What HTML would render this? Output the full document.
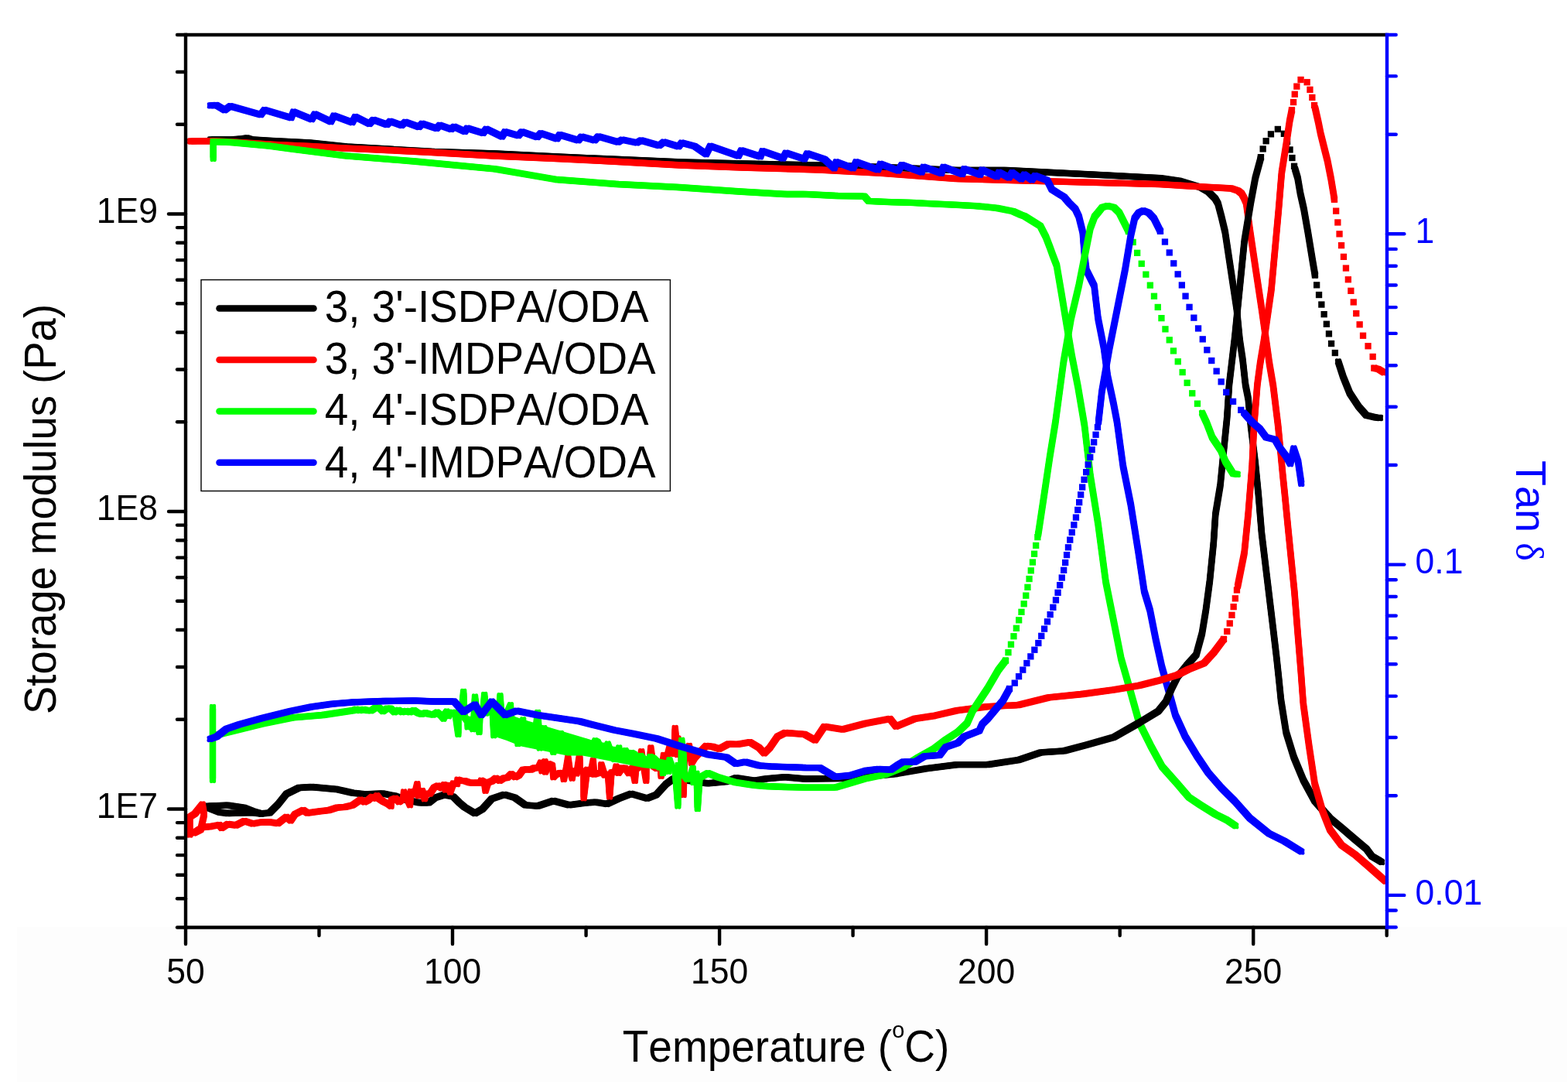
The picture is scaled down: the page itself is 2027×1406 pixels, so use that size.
<!DOCTYPE html>
<html><head><meta charset="utf-8"><style>
html,body{margin:0;padding:0;background:#fff;width:2027px;height:1406px;overflow:hidden}
body{position:relative}
svg text{font-kerning:none}
</style></head><body>
<svg width="2027" height="1406" viewBox="0 0 2027 1406" style="position:absolute;left:0;top:0">
<rect x="22" y="1198" width="2004.3" height="199.7" fill="#fdfdfd"/>
<g stroke="#000" fill="none" stroke-linejoin="round" stroke-linecap="round"><path d="M272.0,180.5 L300.0,180.5 L312.0,179.5 L319.0,178.3 L326.0,180.5 L350.0,182.0 L400.0,184.5 L447.0,189.5 L500.0,192.5 L560.0,196.0 L640.0,198.5 L720.0,202.5 L800.0,206.0 L880.0,209.5 L960.0,211.5 L1060.0,213.5 L1140.0,216.0 L1237.0,220.0 L1300.0,220.0 L1424.0,226.1 L1500.0,230.2 L1524.0,233.6 L1551.8,242.0 L1562.2,248.0 L1571.0,256.8 L1574.5,263.0 L1579.0,280.0 L1583.7,299.6 L1591.2,349.3 L1598.7,399.1 L1602.7,440.0 L1606.5,465.0 L1610.0,497.0 L1613.6,515.0 L1616.9,550.0 L1622.6,596.5 L1626.9,640.0 L1631.0,689.3 L1638.5,751.5 L1646.0,813.8 L1650.3,850.0 L1653.5,880.0 L1656.0,905.0 L1662.6,946.3 L1672.5,978.4 L1684.8,1008.0 L1699.6,1035.1 L1719.3,1057.3 L1734.1,1069.7 L1751.4,1084.5 L1766.2,1096.8 L1773.6,1106.7 L1782.2,1111.6 L1786.0,1114.0" stroke-width="7.64"/><path transform="translate(-2.075,-2.075)" d="M272.0,180.5 L300.0,180.5 L312.0,179.5 L319.0,178.3 L326.0,180.5 L350.0,182.0 L400.0,184.5 L447.0,189.5 L500.0,192.5 L560.0,196.0 L640.0,198.5 L720.0,202.5 L800.0,206.0 L880.0,209.5 L960.0,211.5 L1060.0,213.5 L1140.0,216.0 L1237.0,220.0 L1300.0,220.0 L1424.0,226.1 L1500.0,230.2 L1524.0,233.6 L1551.8,242.0 L1562.2,248.0 L1571.0,256.8 L1574.5,263.0 L1579.0,280.0 L1583.7,299.6 L1591.2,349.3 L1598.7,399.1 L1602.7,440.0 L1606.5,465.0 L1610.0,497.0 L1613.6,515.0 L1616.9,550.0 L1622.6,596.5 L1626.9,640.0 L1631.0,689.3 L1638.5,751.5 L1646.0,813.8 L1650.3,850.0 L1653.5,880.0 L1656.0,905.0 L1662.6,946.3 L1672.5,978.4 L1684.8,1008.0 L1699.6,1035.1 L1719.3,1057.3 L1734.1,1069.7 L1751.4,1084.5 L1766.2,1096.8 L1773.6,1106.7 L1782.2,1111.6 L1786.0,1114.0" stroke-width="4.15"/><path transform="translate(2.075,-2.075)" d="M272.0,180.5 L300.0,180.5 L312.0,179.5 L319.0,178.3 L326.0,180.5 L350.0,182.0 L400.0,184.5 L447.0,189.5 L500.0,192.5 L560.0,196.0 L640.0,198.5 L720.0,202.5 L800.0,206.0 L880.0,209.5 L960.0,211.5 L1060.0,213.5 L1140.0,216.0 L1237.0,220.0 L1300.0,220.0 L1424.0,226.1 L1500.0,230.2 L1524.0,233.6 L1551.8,242.0 L1562.2,248.0 L1571.0,256.8 L1574.5,263.0 L1579.0,280.0 L1583.7,299.6 L1591.2,349.3 L1598.7,399.1 L1602.7,440.0 L1606.5,465.0 L1610.0,497.0 L1613.6,515.0 L1616.9,550.0 L1622.6,596.5 L1626.9,640.0 L1631.0,689.3 L1638.5,751.5 L1646.0,813.8 L1650.3,850.0 L1653.5,880.0 L1656.0,905.0 L1662.6,946.3 L1672.5,978.4 L1684.8,1008.0 L1699.6,1035.1 L1719.3,1057.3 L1734.1,1069.7 L1751.4,1084.5 L1766.2,1096.8 L1773.6,1106.7 L1782.2,1111.6 L1786.0,1114.0" stroke-width="4.15"/><path transform="translate(-2.075,2.075)" d="M272.0,180.5 L300.0,180.5 L312.0,179.5 L319.0,178.3 L326.0,180.5 L350.0,182.0 L400.0,184.5 L447.0,189.5 L500.0,192.5 L560.0,196.0 L640.0,198.5 L720.0,202.5 L800.0,206.0 L880.0,209.5 L960.0,211.5 L1060.0,213.5 L1140.0,216.0 L1237.0,220.0 L1300.0,220.0 L1424.0,226.1 L1500.0,230.2 L1524.0,233.6 L1551.8,242.0 L1562.2,248.0 L1571.0,256.8 L1574.5,263.0 L1579.0,280.0 L1583.7,299.6 L1591.2,349.3 L1598.7,399.1 L1602.7,440.0 L1606.5,465.0 L1610.0,497.0 L1613.6,515.0 L1616.9,550.0 L1622.6,596.5 L1626.9,640.0 L1631.0,689.3 L1638.5,751.5 L1646.0,813.8 L1650.3,850.0 L1653.5,880.0 L1656.0,905.0 L1662.6,946.3 L1672.5,978.4 L1684.8,1008.0 L1699.6,1035.1 L1719.3,1057.3 L1734.1,1069.7 L1751.4,1084.5 L1766.2,1096.8 L1773.6,1106.7 L1782.2,1111.6 L1786.0,1114.0" stroke-width="4.15"/><path transform="translate(2.075,2.075)" d="M272.0,180.5 L300.0,180.5 L312.0,179.5 L319.0,178.3 L326.0,180.5 L350.0,182.0 L400.0,184.5 L447.0,189.5 L500.0,192.5 L560.0,196.0 L640.0,198.5 L720.0,202.5 L800.0,206.0 L880.0,209.5 L960.0,211.5 L1060.0,213.5 L1140.0,216.0 L1237.0,220.0 L1300.0,220.0 L1424.0,226.1 L1500.0,230.2 L1524.0,233.6 L1551.8,242.0 L1562.2,248.0 L1571.0,256.8 L1574.5,263.0 L1579.0,280.0 L1583.7,299.6 L1591.2,349.3 L1598.7,399.1 L1602.7,440.0 L1606.5,465.0 L1610.0,497.0 L1613.6,515.0 L1616.9,550.0 L1622.6,596.5 L1626.9,640.0 L1631.0,689.3 L1638.5,751.5 L1646.0,813.8 L1650.3,850.0 L1653.5,880.0 L1656.0,905.0 L1662.6,946.3 L1672.5,978.4 L1684.8,1008.0 L1699.6,1035.1 L1719.3,1057.3 L1734.1,1069.7 L1751.4,1084.5 L1766.2,1096.8 L1773.6,1106.7 L1782.2,1111.6 L1786.0,1114.0" stroke-width="4.15"/></g>
<g stroke="#ff0000" fill="none" stroke-linejoin="round" stroke-linecap="round"><path d="M246.0,182.5 L272.0,182.2 L300.0,183.5 L348.7,186.6 L400.0,189.0 L447.3,191.6 L500.0,194.0 L560.0,197.0 L640.0,201.6 L720.0,205.0 L800.0,209.0 L880.0,213.5 L960.0,216.5 L1060.0,219.5 L1140.0,223.8 L1237.0,231.0 L1300.0,232.8 L1424.4,236.2 L1500.0,238.2 L1548.9,241.1 L1591.8,243.5 L1600.6,246.5 L1605.0,250.0 L1608.0,255.3 L1611.0,262.0 L1616.1,299.6 L1623.5,349.3 L1631.0,399.1 L1636.8,440.0 L1641.0,470.0 L1645.9,498.7 L1652.2,550.0 L1658.4,614.7 L1661.0,640.0 L1665.8,689.3 L1673.3,764.0 L1678.3,826.2 L1681.5,865.0 L1684.8,909.3 L1692.2,963.6 L1699.6,1012.9 L1709.5,1047.5 L1719.3,1072.1 L1734.1,1091.9 L1751.4,1104.2 L1768.7,1119.0 L1790.9,1138.7" stroke-width="7.64"/><path transform="translate(-2.075,-2.075)" d="M246.0,182.5 L272.0,182.2 L300.0,183.5 L348.7,186.6 L400.0,189.0 L447.3,191.6 L500.0,194.0 L560.0,197.0 L640.0,201.6 L720.0,205.0 L800.0,209.0 L880.0,213.5 L960.0,216.5 L1060.0,219.5 L1140.0,223.8 L1237.0,231.0 L1300.0,232.8 L1424.4,236.2 L1500.0,238.2 L1548.9,241.1 L1591.8,243.5 L1600.6,246.5 L1605.0,250.0 L1608.0,255.3 L1611.0,262.0 L1616.1,299.6 L1623.5,349.3 L1631.0,399.1 L1636.8,440.0 L1641.0,470.0 L1645.9,498.7 L1652.2,550.0 L1658.4,614.7 L1661.0,640.0 L1665.8,689.3 L1673.3,764.0 L1678.3,826.2 L1681.5,865.0 L1684.8,909.3 L1692.2,963.6 L1699.6,1012.9 L1709.5,1047.5 L1719.3,1072.1 L1734.1,1091.9 L1751.4,1104.2 L1768.7,1119.0 L1790.9,1138.7" stroke-width="4.15"/><path transform="translate(2.075,-2.075)" d="M246.0,182.5 L272.0,182.2 L300.0,183.5 L348.7,186.6 L400.0,189.0 L447.3,191.6 L500.0,194.0 L560.0,197.0 L640.0,201.6 L720.0,205.0 L800.0,209.0 L880.0,213.5 L960.0,216.5 L1060.0,219.5 L1140.0,223.8 L1237.0,231.0 L1300.0,232.8 L1424.4,236.2 L1500.0,238.2 L1548.9,241.1 L1591.8,243.5 L1600.6,246.5 L1605.0,250.0 L1608.0,255.3 L1611.0,262.0 L1616.1,299.6 L1623.5,349.3 L1631.0,399.1 L1636.8,440.0 L1641.0,470.0 L1645.9,498.7 L1652.2,550.0 L1658.4,614.7 L1661.0,640.0 L1665.8,689.3 L1673.3,764.0 L1678.3,826.2 L1681.5,865.0 L1684.8,909.3 L1692.2,963.6 L1699.6,1012.9 L1709.5,1047.5 L1719.3,1072.1 L1734.1,1091.9 L1751.4,1104.2 L1768.7,1119.0 L1790.9,1138.7" stroke-width="4.15"/><path transform="translate(-2.075,2.075)" d="M246.0,182.5 L272.0,182.2 L300.0,183.5 L348.7,186.6 L400.0,189.0 L447.3,191.6 L500.0,194.0 L560.0,197.0 L640.0,201.6 L720.0,205.0 L800.0,209.0 L880.0,213.5 L960.0,216.5 L1060.0,219.5 L1140.0,223.8 L1237.0,231.0 L1300.0,232.8 L1424.4,236.2 L1500.0,238.2 L1548.9,241.1 L1591.8,243.5 L1600.6,246.5 L1605.0,250.0 L1608.0,255.3 L1611.0,262.0 L1616.1,299.6 L1623.5,349.3 L1631.0,399.1 L1636.8,440.0 L1641.0,470.0 L1645.9,498.7 L1652.2,550.0 L1658.4,614.7 L1661.0,640.0 L1665.8,689.3 L1673.3,764.0 L1678.3,826.2 L1681.5,865.0 L1684.8,909.3 L1692.2,963.6 L1699.6,1012.9 L1709.5,1047.5 L1719.3,1072.1 L1734.1,1091.9 L1751.4,1104.2 L1768.7,1119.0 L1790.9,1138.7" stroke-width="4.15"/><path transform="translate(2.075,2.075)" d="M246.0,182.5 L272.0,182.2 L300.0,183.5 L348.7,186.6 L400.0,189.0 L447.3,191.6 L500.0,194.0 L560.0,197.0 L640.0,201.6 L720.0,205.0 L800.0,209.0 L880.0,213.5 L960.0,216.5 L1060.0,219.5 L1140.0,223.8 L1237.0,231.0 L1300.0,232.8 L1424.4,236.2 L1500.0,238.2 L1548.9,241.1 L1591.8,243.5 L1600.6,246.5 L1605.0,250.0 L1608.0,255.3 L1611.0,262.0 L1616.1,299.6 L1623.5,349.3 L1631.0,399.1 L1636.8,440.0 L1641.0,470.0 L1645.9,498.7 L1652.2,550.0 L1658.4,614.7 L1661.0,640.0 L1665.8,689.3 L1673.3,764.0 L1678.3,826.2 L1681.5,865.0 L1684.8,909.3 L1692.2,963.6 L1699.6,1012.9 L1709.5,1047.5 L1719.3,1072.1 L1734.1,1091.9 L1751.4,1104.2 L1768.7,1119.0 L1790.9,1138.7" stroke-width="4.15"/></g>
<g stroke="#00ff00" fill="none" stroke-linejoin="round" stroke-linecap="round"><path d="M275.7,183.0 L275.7,205.0" stroke-width="7.64"/><path transform="translate(-2.075,-2.075)" d="M275.7,183.0 L275.7,205.0" stroke-width="4.15"/><path transform="translate(2.075,-2.075)" d="M275.7,183.0 L275.7,205.0" stroke-width="4.15"/><path transform="translate(-2.075,2.075)" d="M275.7,183.0 L275.7,205.0" stroke-width="4.15"/><path transform="translate(2.075,2.075)" d="M275.7,183.0 L275.7,205.0" stroke-width="4.15"/></g>
<g stroke="#00ff00" fill="none" stroke-linejoin="round" stroke-linecap="round"><path d="M275.7,183.2 L300.0,184.0 L348.7,188.6 L378.3,192.6 L447.3,201.4 L536.0,208.5 L640.0,218.4 L719.0,232.0 L798.0,238.0 L877.0,242.0 L956.0,247.5 L1015.7,251.0 L1040.0,250.9 L1081.4,253.0 L1117.4,253.6 L1122.9,259.9 L1150.5,261.2 L1178.1,261.9 L1205.8,263.3 L1233.4,264.7 L1261.0,266.1 L1288.7,268.8 L1309.4,273.0 L1320.0,277.8 L1324.9,279.6 L1344.8,292.0 L1352.0,306.0 L1357.2,319.5 L1361.0,330.0 L1366.0,343.0 L1372.2,379.2 L1379.6,424.0 L1385.9,461.3 L1393.3,498.7 L1402.0,550.0 L1409.5,614.7 L1419.5,676.9 L1429.4,751.5 L1439.4,801.3 L1449.3,851.1 L1460.3,889.6 L1472.7,934.0 L1487.5,963.6 L1502.3,990.7 L1522.0,1012.9 L1536.8,1030.2 L1551.6,1040.1 L1571.3,1052.4 L1586.1,1059.8 L1597.2,1067.2" stroke-width="7.64"/><path transform="translate(-2.075,-2.075)" d="M275.7,183.2 L300.0,184.0 L348.7,188.6 L378.3,192.6 L447.3,201.4 L536.0,208.5 L640.0,218.4 L719.0,232.0 L798.0,238.0 L877.0,242.0 L956.0,247.5 L1015.7,251.0 L1040.0,250.9 L1081.4,253.0 L1117.4,253.6 L1122.9,259.9 L1150.5,261.2 L1178.1,261.9 L1205.8,263.3 L1233.4,264.7 L1261.0,266.1 L1288.7,268.8 L1309.4,273.0 L1320.0,277.8 L1324.9,279.6 L1344.8,292.0 L1352.0,306.0 L1357.2,319.5 L1361.0,330.0 L1366.0,343.0 L1372.2,379.2 L1379.6,424.0 L1385.9,461.3 L1393.3,498.7 L1402.0,550.0 L1409.5,614.7 L1419.5,676.9 L1429.4,751.5 L1439.4,801.3 L1449.3,851.1 L1460.3,889.6 L1472.7,934.0 L1487.5,963.6 L1502.3,990.7 L1522.0,1012.9 L1536.8,1030.2 L1551.6,1040.1 L1571.3,1052.4 L1586.1,1059.8 L1597.2,1067.2" stroke-width="4.15"/><path transform="translate(2.075,-2.075)" d="M275.7,183.2 L300.0,184.0 L348.7,188.6 L378.3,192.6 L447.3,201.4 L536.0,208.5 L640.0,218.4 L719.0,232.0 L798.0,238.0 L877.0,242.0 L956.0,247.5 L1015.7,251.0 L1040.0,250.9 L1081.4,253.0 L1117.4,253.6 L1122.9,259.9 L1150.5,261.2 L1178.1,261.9 L1205.8,263.3 L1233.4,264.7 L1261.0,266.1 L1288.7,268.8 L1309.4,273.0 L1320.0,277.8 L1324.9,279.6 L1344.8,292.0 L1352.0,306.0 L1357.2,319.5 L1361.0,330.0 L1366.0,343.0 L1372.2,379.2 L1379.6,424.0 L1385.9,461.3 L1393.3,498.7 L1402.0,550.0 L1409.5,614.7 L1419.5,676.9 L1429.4,751.5 L1439.4,801.3 L1449.3,851.1 L1460.3,889.6 L1472.7,934.0 L1487.5,963.6 L1502.3,990.7 L1522.0,1012.9 L1536.8,1030.2 L1551.6,1040.1 L1571.3,1052.4 L1586.1,1059.8 L1597.2,1067.2" stroke-width="4.15"/><path transform="translate(-2.075,2.075)" d="M275.7,183.2 L300.0,184.0 L348.7,188.6 L378.3,192.6 L447.3,201.4 L536.0,208.5 L640.0,218.4 L719.0,232.0 L798.0,238.0 L877.0,242.0 L956.0,247.5 L1015.7,251.0 L1040.0,250.9 L1081.4,253.0 L1117.4,253.6 L1122.9,259.9 L1150.5,261.2 L1178.1,261.9 L1205.8,263.3 L1233.4,264.7 L1261.0,266.1 L1288.7,268.8 L1309.4,273.0 L1320.0,277.8 L1324.9,279.6 L1344.8,292.0 L1352.0,306.0 L1357.2,319.5 L1361.0,330.0 L1366.0,343.0 L1372.2,379.2 L1379.6,424.0 L1385.9,461.3 L1393.3,498.7 L1402.0,550.0 L1409.5,614.7 L1419.5,676.9 L1429.4,751.5 L1439.4,801.3 L1449.3,851.1 L1460.3,889.6 L1472.7,934.0 L1487.5,963.6 L1502.3,990.7 L1522.0,1012.9 L1536.8,1030.2 L1551.6,1040.1 L1571.3,1052.4 L1586.1,1059.8 L1597.2,1067.2" stroke-width="4.15"/><path transform="translate(2.075,2.075)" d="M275.7,183.2 L300.0,184.0 L348.7,188.6 L378.3,192.6 L447.3,201.4 L536.0,208.5 L640.0,218.4 L719.0,232.0 L798.0,238.0 L877.0,242.0 L956.0,247.5 L1015.7,251.0 L1040.0,250.9 L1081.4,253.0 L1117.4,253.6 L1122.9,259.9 L1150.5,261.2 L1178.1,261.9 L1205.8,263.3 L1233.4,264.7 L1261.0,266.1 L1288.7,268.8 L1309.4,273.0 L1320.0,277.8 L1324.9,279.6 L1344.8,292.0 L1352.0,306.0 L1357.2,319.5 L1361.0,330.0 L1366.0,343.0 L1372.2,379.2 L1379.6,424.0 L1385.9,461.3 L1393.3,498.7 L1402.0,550.0 L1409.5,614.7 L1419.5,676.9 L1429.4,751.5 L1439.4,801.3 L1449.3,851.1 L1460.3,889.6 L1472.7,934.0 L1487.5,963.6 L1502.3,990.7 L1522.0,1012.9 L1536.8,1030.2 L1551.6,1040.1 L1571.3,1052.4 L1586.1,1059.8 L1597.2,1067.2" stroke-width="4.15"/></g>
<g stroke="#0000ff" fill="none" stroke-linejoin="round" stroke-linecap="round"><path d="M271.8,136.3 L279.7,135.8 L290.6,142.4 L297.5,137.1 L337.0,148.3 L341.9,142.0 L376.4,152.3 L379.4,144.5 L403.1,154.2 L407.0,147.4 L427.7,157.2 L431.7,149.4 L455.4,158.2 L459.3,150.9 L477.7,160.1 L482.6,154.8 L500.4,161.1 L504.3,156.7 L519.1,162.1 L524.0,157.7 L541.8,164.1 L545.7,159.7 L564.5,166.0 L568.4,161.7 L583.2,167.0 L587.1,163.7 L601.0,170.0 L603.9,165.6 L624.6,172.0 L628.6,166.6 L649.0,176.5 L652.8,170.3 L670.1,175.3 L674.6,170.3 L694.5,177.2 L699.0,172.2 L720.2,179.4 L723.4,174.1 L747.7,181.4 L751.6,176.7 L768.9,181.4 L773.4,176.3 L799.1,183.6 L804.2,180.5 L823.4,184.5 L828.6,181.4 L852.3,188.1 L858.1,183.5 L877.3,189.4 L881.2,184.5 L898.0,189.0 L912.9,199.3 L918.2,188.7 L954.6,201.5 L958.2,194.4 L983.0,202.4 L985.7,195.3 L1012.3,204.6 L1015.9,197.6 L1039.9,205.5 L1043.4,198.4 L1065.7,205.7 L1078.5,217.4 L1081.0,209.3 L1102.9,217.4 L1106.7,209.3 L1134.9,219.4 L1138.1,211.8 L1161.2,220.6 L1165.7,213.1 L1191.4,222.6 L1193.9,215.7 L1217.0,223.9 L1219.6,215.7 L1244.0,225.1 L1246.5,218.2 L1267.0,225.8 L1269.6,219.5 L1288.8,228.3 L1291.4,222.7 L1304.4,229.5 L1308.4,223.0 L1320.2,231.5 L1324.2,225.5 L1334.0,232.5 L1338.0,227.0 L1353.8,233.0 L1359.7,244.7 L1368.0,250.0 L1375.5,254.5 L1382.1,262.2 L1390.0,270.0 L1394.6,279.6 L1399.6,299.6 L1402.0,330.0 L1404.5,349.3 L1414.5,369.2 L1419.5,411.5 L1426.9,448.9 L1431.9,486.2 L1439.4,521.0 L1444.0,545.0 L1451.8,602.2 L1461.8,652.0 L1471.7,714.2 L1479.2,764.0 L1486.7,788.9 L1494.1,826.2 L1502.0,862.0 L1510.0,890.0 L1519.5,924.1 L1531.9,951.3 L1546.7,975.9 L1561.5,998.1 L1578.7,1017.9 L1596.0,1035.1 L1615.7,1057.3 L1640.4,1077.1 L1660.1,1086.9 L1682.3,1100.5" stroke-width="7.64"/><path transform="translate(-2.075,-2.075)" d="M271.8,136.3 L279.7,135.8 L290.6,142.4 L297.5,137.1 L337.0,148.3 L341.9,142.0 L376.4,152.3 L379.4,144.5 L403.1,154.2 L407.0,147.4 L427.7,157.2 L431.7,149.4 L455.4,158.2 L459.3,150.9 L477.7,160.1 L482.6,154.8 L500.4,161.1 L504.3,156.7 L519.1,162.1 L524.0,157.7 L541.8,164.1 L545.7,159.7 L564.5,166.0 L568.4,161.7 L583.2,167.0 L587.1,163.7 L601.0,170.0 L603.9,165.6 L624.6,172.0 L628.6,166.6 L649.0,176.5 L652.8,170.3 L670.1,175.3 L674.6,170.3 L694.5,177.2 L699.0,172.2 L720.2,179.4 L723.4,174.1 L747.7,181.4 L751.6,176.7 L768.9,181.4 L773.4,176.3 L799.1,183.6 L804.2,180.5 L823.4,184.5 L828.6,181.4 L852.3,188.1 L858.1,183.5 L877.3,189.4 L881.2,184.5 L898.0,189.0 L912.9,199.3 L918.2,188.7 L954.6,201.5 L958.2,194.4 L983.0,202.4 L985.7,195.3 L1012.3,204.6 L1015.9,197.6 L1039.9,205.5 L1043.4,198.4 L1065.7,205.7 L1078.5,217.4 L1081.0,209.3 L1102.9,217.4 L1106.7,209.3 L1134.9,219.4 L1138.1,211.8 L1161.2,220.6 L1165.7,213.1 L1191.4,222.6 L1193.9,215.7 L1217.0,223.9 L1219.6,215.7 L1244.0,225.1 L1246.5,218.2 L1267.0,225.8 L1269.6,219.5 L1288.8,228.3 L1291.4,222.7 L1304.4,229.5 L1308.4,223.0 L1320.2,231.5 L1324.2,225.5 L1334.0,232.5 L1338.0,227.0 L1353.8,233.0 L1359.7,244.7 L1368.0,250.0 L1375.5,254.5 L1382.1,262.2 L1390.0,270.0 L1394.6,279.6 L1399.6,299.6 L1402.0,330.0 L1404.5,349.3 L1414.5,369.2 L1419.5,411.5 L1426.9,448.9 L1431.9,486.2 L1439.4,521.0 L1444.0,545.0 L1451.8,602.2 L1461.8,652.0 L1471.7,714.2 L1479.2,764.0 L1486.7,788.9 L1494.1,826.2 L1502.0,862.0 L1510.0,890.0 L1519.5,924.1 L1531.9,951.3 L1546.7,975.9 L1561.5,998.1 L1578.7,1017.9 L1596.0,1035.1 L1615.7,1057.3 L1640.4,1077.1 L1660.1,1086.9 L1682.3,1100.5" stroke-width="4.15"/><path transform="translate(2.075,-2.075)" d="M271.8,136.3 L279.7,135.8 L290.6,142.4 L297.5,137.1 L337.0,148.3 L341.9,142.0 L376.4,152.3 L379.4,144.5 L403.1,154.2 L407.0,147.4 L427.7,157.2 L431.7,149.4 L455.4,158.2 L459.3,150.9 L477.7,160.1 L482.6,154.8 L500.4,161.1 L504.3,156.7 L519.1,162.1 L524.0,157.7 L541.8,164.1 L545.7,159.7 L564.5,166.0 L568.4,161.7 L583.2,167.0 L587.1,163.7 L601.0,170.0 L603.9,165.6 L624.6,172.0 L628.6,166.6 L649.0,176.5 L652.8,170.3 L670.1,175.3 L674.6,170.3 L694.5,177.2 L699.0,172.2 L720.2,179.4 L723.4,174.1 L747.7,181.4 L751.6,176.7 L768.9,181.4 L773.4,176.3 L799.1,183.6 L804.2,180.5 L823.4,184.5 L828.6,181.4 L852.3,188.1 L858.1,183.5 L877.3,189.4 L881.2,184.5 L898.0,189.0 L912.9,199.3 L918.2,188.7 L954.6,201.5 L958.2,194.4 L983.0,202.4 L985.7,195.3 L1012.3,204.6 L1015.9,197.6 L1039.9,205.5 L1043.4,198.4 L1065.7,205.7 L1078.5,217.4 L1081.0,209.3 L1102.9,217.4 L1106.7,209.3 L1134.9,219.4 L1138.1,211.8 L1161.2,220.6 L1165.7,213.1 L1191.4,222.6 L1193.9,215.7 L1217.0,223.9 L1219.6,215.7 L1244.0,225.1 L1246.5,218.2 L1267.0,225.8 L1269.6,219.5 L1288.8,228.3 L1291.4,222.7 L1304.4,229.5 L1308.4,223.0 L1320.2,231.5 L1324.2,225.5 L1334.0,232.5 L1338.0,227.0 L1353.8,233.0 L1359.7,244.7 L1368.0,250.0 L1375.5,254.5 L1382.1,262.2 L1390.0,270.0 L1394.6,279.6 L1399.6,299.6 L1402.0,330.0 L1404.5,349.3 L1414.5,369.2 L1419.5,411.5 L1426.9,448.9 L1431.9,486.2 L1439.4,521.0 L1444.0,545.0 L1451.8,602.2 L1461.8,652.0 L1471.7,714.2 L1479.2,764.0 L1486.7,788.9 L1494.1,826.2 L1502.0,862.0 L1510.0,890.0 L1519.5,924.1 L1531.9,951.3 L1546.7,975.9 L1561.5,998.1 L1578.7,1017.9 L1596.0,1035.1 L1615.7,1057.3 L1640.4,1077.1 L1660.1,1086.9 L1682.3,1100.5" stroke-width="4.15"/><path transform="translate(-2.075,2.075)" d="M271.8,136.3 L279.7,135.8 L290.6,142.4 L297.5,137.1 L337.0,148.3 L341.9,142.0 L376.4,152.3 L379.4,144.5 L403.1,154.2 L407.0,147.4 L427.7,157.2 L431.7,149.4 L455.4,158.2 L459.3,150.9 L477.7,160.1 L482.6,154.8 L500.4,161.1 L504.3,156.7 L519.1,162.1 L524.0,157.7 L541.8,164.1 L545.7,159.7 L564.5,166.0 L568.4,161.7 L583.2,167.0 L587.1,163.7 L601.0,170.0 L603.9,165.6 L624.6,172.0 L628.6,166.6 L649.0,176.5 L652.8,170.3 L670.1,175.3 L674.6,170.3 L694.5,177.2 L699.0,172.2 L720.2,179.4 L723.4,174.1 L747.7,181.4 L751.6,176.7 L768.9,181.4 L773.4,176.3 L799.1,183.6 L804.2,180.5 L823.4,184.5 L828.6,181.4 L852.3,188.1 L858.1,183.5 L877.3,189.4 L881.2,184.5 L898.0,189.0 L912.9,199.3 L918.2,188.7 L954.6,201.5 L958.2,194.4 L983.0,202.4 L985.7,195.3 L1012.3,204.6 L1015.9,197.6 L1039.9,205.5 L1043.4,198.4 L1065.7,205.7 L1078.5,217.4 L1081.0,209.3 L1102.9,217.4 L1106.7,209.3 L1134.9,219.4 L1138.1,211.8 L1161.2,220.6 L1165.7,213.1 L1191.4,222.6 L1193.9,215.7 L1217.0,223.9 L1219.6,215.7 L1244.0,225.1 L1246.5,218.2 L1267.0,225.8 L1269.6,219.5 L1288.8,228.3 L1291.4,222.7 L1304.4,229.5 L1308.4,223.0 L1320.2,231.5 L1324.2,225.5 L1334.0,232.5 L1338.0,227.0 L1353.8,233.0 L1359.7,244.7 L1368.0,250.0 L1375.5,254.5 L1382.1,262.2 L1390.0,270.0 L1394.6,279.6 L1399.6,299.6 L1402.0,330.0 L1404.5,349.3 L1414.5,369.2 L1419.5,411.5 L1426.9,448.9 L1431.9,486.2 L1439.4,521.0 L1444.0,545.0 L1451.8,602.2 L1461.8,652.0 L1471.7,714.2 L1479.2,764.0 L1486.7,788.9 L1494.1,826.2 L1502.0,862.0 L1510.0,890.0 L1519.5,924.1 L1531.9,951.3 L1546.7,975.9 L1561.5,998.1 L1578.7,1017.9 L1596.0,1035.1 L1615.7,1057.3 L1640.4,1077.1 L1660.1,1086.9 L1682.3,1100.5" stroke-width="4.15"/><path transform="translate(2.075,2.075)" d="M271.8,136.3 L279.7,135.8 L290.6,142.4 L297.5,137.1 L337.0,148.3 L341.9,142.0 L376.4,152.3 L379.4,144.5 L403.1,154.2 L407.0,147.4 L427.7,157.2 L431.7,149.4 L455.4,158.2 L459.3,150.9 L477.7,160.1 L482.6,154.8 L500.4,161.1 L504.3,156.7 L519.1,162.1 L524.0,157.7 L541.8,164.1 L545.7,159.7 L564.5,166.0 L568.4,161.7 L583.2,167.0 L587.1,163.7 L601.0,170.0 L603.9,165.6 L624.6,172.0 L628.6,166.6 L649.0,176.5 L652.8,170.3 L670.1,175.3 L674.6,170.3 L694.5,177.2 L699.0,172.2 L720.2,179.4 L723.4,174.1 L747.7,181.4 L751.6,176.7 L768.9,181.4 L773.4,176.3 L799.1,183.6 L804.2,180.5 L823.4,184.5 L828.6,181.4 L852.3,188.1 L858.1,183.5 L877.3,189.4 L881.2,184.5 L898.0,189.0 L912.9,199.3 L918.2,188.7 L954.6,201.5 L958.2,194.4 L983.0,202.4 L985.7,195.3 L1012.3,204.6 L1015.9,197.6 L1039.9,205.5 L1043.4,198.4 L1065.7,205.7 L1078.5,217.4 L1081.0,209.3 L1102.9,217.4 L1106.7,209.3 L1134.9,219.4 L1138.1,211.8 L1161.2,220.6 L1165.7,213.1 L1191.4,222.6 L1193.9,215.7 L1217.0,223.9 L1219.6,215.7 L1244.0,225.1 L1246.5,218.2 L1267.0,225.8 L1269.6,219.5 L1288.8,228.3 L1291.4,222.7 L1304.4,229.5 L1308.4,223.0 L1320.2,231.5 L1324.2,225.5 L1334.0,232.5 L1338.0,227.0 L1353.8,233.0 L1359.7,244.7 L1368.0,250.0 L1375.5,254.5 L1382.1,262.2 L1390.0,270.0 L1394.6,279.6 L1399.6,299.6 L1402.0,330.0 L1404.5,349.3 L1414.5,369.2 L1419.5,411.5 L1426.9,448.9 L1431.9,486.2 L1439.4,521.0 L1444.0,545.0 L1451.8,602.2 L1461.8,652.0 L1471.7,714.2 L1479.2,764.0 L1486.7,788.9 L1494.1,826.2 L1502.0,862.0 L1510.0,890.0 L1519.5,924.1 L1531.9,951.3 L1546.7,975.9 L1561.5,998.1 L1578.7,1017.9 L1596.0,1035.1 L1615.7,1057.3 L1640.4,1077.1 L1660.1,1086.9 L1682.3,1100.5" stroke-width="4.15"/></g>
<g stroke="#000" fill="none" stroke-linejoin="round" stroke-linecap="round"><path d="M268.2,1041.7 L294.3,1040.6 L316.0,1043.9 L326.8,1048.2 L337.7,1051.5 L348.5,1050.4 L359.4,1039.5 L370.2,1026.0 L386.5,1018.0 L402.8,1017.0 L435.4,1020.0 L455.8,1024.7 L471.6,1026.3 L495.2,1025.5 L511.0,1028.7 L526.8,1034.2 L542.6,1037.4 L554.4,1037.4 L562.3,1031.0 L574.2,1027.1 L586.0,1029.5 L593.9,1037.4 L600.5,1043.0 L614.0,1051.1 L623.5,1045.7 L635.7,1032.2 L651.9,1026.8 L665.4,1030.8 L678.9,1040.3 L695.1,1041.6 L715.4,1034.9 L735.7,1040.3 L756.0,1037.6 L770.0,1036.6 L784.5,1039.0 L800.2,1031.8 L815.9,1025.7 L836.5,1031.8 L848.6,1026.9 L860.7,1013.6 L870.3,1006.4 L890.9,1008.8 L915.0,1012.4 L939.2,1010.0 L951.3,1005.2 L975.5,1008.8 L990.0,1006.4 L1015.0,1004.2 L1040.0,1006.5 L1099.2,1005.9 L1158.4,1000.0 L1197.9,993.1 L1237.3,988.1 L1276.8,988.1 L1316.3,982.2 L1345.9,972.3 L1375.5,970.4 L1405.1,962.5 L1440.0,952.6 L1472.7,934.0 L1497.3,919.2 L1507.2,906.9 L1514.5,890.0 L1522.0,875.0 L1534.0,860.0 L1546.4,846.1 L1553.9,818.7 L1558.8,788.9 L1563.8,751.5 L1568.8,701.8 L1571.3,664.4 L1577.5,627.1 L1581.2,589.8 L1586.2,540.0 L1589.0,497.0 L1596.2,436.4 L1602.4,374.2 L1608.6,312.0 L1617.0,261.0 L1622.8,230.0 L1628.8,208.0 L1630.0,203.1" stroke-width="7.64"/><path transform="translate(-2.075,-2.075)" d="M268.2,1041.7 L294.3,1040.6 L316.0,1043.9 L326.8,1048.2 L337.7,1051.5 L348.5,1050.4 L359.4,1039.5 L370.2,1026.0 L386.5,1018.0 L402.8,1017.0 L435.4,1020.0 L455.8,1024.7 L471.6,1026.3 L495.2,1025.5 L511.0,1028.7 L526.8,1034.2 L542.6,1037.4 L554.4,1037.4 L562.3,1031.0 L574.2,1027.1 L586.0,1029.5 L593.9,1037.4 L600.5,1043.0 L614.0,1051.1 L623.5,1045.7 L635.7,1032.2 L651.9,1026.8 L665.4,1030.8 L678.9,1040.3 L695.1,1041.6 L715.4,1034.9 L735.7,1040.3 L756.0,1037.6 L770.0,1036.6 L784.5,1039.0 L800.2,1031.8 L815.9,1025.7 L836.5,1031.8 L848.6,1026.9 L860.7,1013.6 L870.3,1006.4 L890.9,1008.8 L915.0,1012.4 L939.2,1010.0 L951.3,1005.2 L975.5,1008.8 L990.0,1006.4 L1015.0,1004.2 L1040.0,1006.5 L1099.2,1005.9 L1158.4,1000.0 L1197.9,993.1 L1237.3,988.1 L1276.8,988.1 L1316.3,982.2 L1345.9,972.3 L1375.5,970.4 L1405.1,962.5 L1440.0,952.6 L1472.7,934.0 L1497.3,919.2 L1507.2,906.9 L1514.5,890.0 L1522.0,875.0 L1534.0,860.0 L1546.4,846.1 L1553.9,818.7 L1558.8,788.9 L1563.8,751.5 L1568.8,701.8 L1571.3,664.4 L1577.5,627.1 L1581.2,589.8 L1586.2,540.0 L1589.0,497.0 L1596.2,436.4 L1602.4,374.2 L1608.6,312.0 L1617.0,261.0 L1622.8,230.0 L1628.8,208.0 L1630.0,203.1" stroke-width="4.15"/><path transform="translate(2.075,-2.075)" d="M268.2,1041.7 L294.3,1040.6 L316.0,1043.9 L326.8,1048.2 L337.7,1051.5 L348.5,1050.4 L359.4,1039.5 L370.2,1026.0 L386.5,1018.0 L402.8,1017.0 L435.4,1020.0 L455.8,1024.7 L471.6,1026.3 L495.2,1025.5 L511.0,1028.7 L526.8,1034.2 L542.6,1037.4 L554.4,1037.4 L562.3,1031.0 L574.2,1027.1 L586.0,1029.5 L593.9,1037.4 L600.5,1043.0 L614.0,1051.1 L623.5,1045.7 L635.7,1032.2 L651.9,1026.8 L665.4,1030.8 L678.9,1040.3 L695.1,1041.6 L715.4,1034.9 L735.7,1040.3 L756.0,1037.6 L770.0,1036.6 L784.5,1039.0 L800.2,1031.8 L815.9,1025.7 L836.5,1031.8 L848.6,1026.9 L860.7,1013.6 L870.3,1006.4 L890.9,1008.8 L915.0,1012.4 L939.2,1010.0 L951.3,1005.2 L975.5,1008.8 L990.0,1006.4 L1015.0,1004.2 L1040.0,1006.5 L1099.2,1005.9 L1158.4,1000.0 L1197.9,993.1 L1237.3,988.1 L1276.8,988.1 L1316.3,982.2 L1345.9,972.3 L1375.5,970.4 L1405.1,962.5 L1440.0,952.6 L1472.7,934.0 L1497.3,919.2 L1507.2,906.9 L1514.5,890.0 L1522.0,875.0 L1534.0,860.0 L1546.4,846.1 L1553.9,818.7 L1558.8,788.9 L1563.8,751.5 L1568.8,701.8 L1571.3,664.4 L1577.5,627.1 L1581.2,589.8 L1586.2,540.0 L1589.0,497.0 L1596.2,436.4 L1602.4,374.2 L1608.6,312.0 L1617.0,261.0 L1622.8,230.0 L1628.8,208.0 L1630.0,203.1" stroke-width="4.15"/><path transform="translate(-2.075,2.075)" d="M268.2,1041.7 L294.3,1040.6 L316.0,1043.9 L326.8,1048.2 L337.7,1051.5 L348.5,1050.4 L359.4,1039.5 L370.2,1026.0 L386.5,1018.0 L402.8,1017.0 L435.4,1020.0 L455.8,1024.7 L471.6,1026.3 L495.2,1025.5 L511.0,1028.7 L526.8,1034.2 L542.6,1037.4 L554.4,1037.4 L562.3,1031.0 L574.2,1027.1 L586.0,1029.5 L593.9,1037.4 L600.5,1043.0 L614.0,1051.1 L623.5,1045.7 L635.7,1032.2 L651.9,1026.8 L665.4,1030.8 L678.9,1040.3 L695.1,1041.6 L715.4,1034.9 L735.7,1040.3 L756.0,1037.6 L770.0,1036.6 L784.5,1039.0 L800.2,1031.8 L815.9,1025.7 L836.5,1031.8 L848.6,1026.9 L860.7,1013.6 L870.3,1006.4 L890.9,1008.8 L915.0,1012.4 L939.2,1010.0 L951.3,1005.2 L975.5,1008.8 L990.0,1006.4 L1015.0,1004.2 L1040.0,1006.5 L1099.2,1005.9 L1158.4,1000.0 L1197.9,993.1 L1237.3,988.1 L1276.8,988.1 L1316.3,982.2 L1345.9,972.3 L1375.5,970.4 L1405.1,962.5 L1440.0,952.6 L1472.7,934.0 L1497.3,919.2 L1507.2,906.9 L1514.5,890.0 L1522.0,875.0 L1534.0,860.0 L1546.4,846.1 L1553.9,818.7 L1558.8,788.9 L1563.8,751.5 L1568.8,701.8 L1571.3,664.4 L1577.5,627.1 L1581.2,589.8 L1586.2,540.0 L1589.0,497.0 L1596.2,436.4 L1602.4,374.2 L1608.6,312.0 L1617.0,261.0 L1622.8,230.0 L1628.8,208.0 L1630.0,203.1" stroke-width="4.15"/><path transform="translate(2.075,2.075)" d="M268.2,1041.7 L294.3,1040.6 L316.0,1043.9 L326.8,1048.2 L337.7,1051.5 L348.5,1050.4 L359.4,1039.5 L370.2,1026.0 L386.5,1018.0 L402.8,1017.0 L435.4,1020.0 L455.8,1024.7 L471.6,1026.3 L495.2,1025.5 L511.0,1028.7 L526.8,1034.2 L542.6,1037.4 L554.4,1037.4 L562.3,1031.0 L574.2,1027.1 L586.0,1029.5 L593.9,1037.4 L600.5,1043.0 L614.0,1051.1 L623.5,1045.7 L635.7,1032.2 L651.9,1026.8 L665.4,1030.8 L678.9,1040.3 L695.1,1041.6 L715.4,1034.9 L735.7,1040.3 L756.0,1037.6 L770.0,1036.6 L784.5,1039.0 L800.2,1031.8 L815.9,1025.7 L836.5,1031.8 L848.6,1026.9 L860.7,1013.6 L870.3,1006.4 L890.9,1008.8 L915.0,1012.4 L939.2,1010.0 L951.3,1005.2 L975.5,1008.8 L990.0,1006.4 L1015.0,1004.2 L1040.0,1006.5 L1099.2,1005.9 L1158.4,1000.0 L1197.9,993.1 L1237.3,988.1 L1276.8,988.1 L1316.3,982.2 L1345.9,972.3 L1375.5,970.4 L1405.1,962.5 L1440.0,952.6 L1472.7,934.0 L1497.3,919.2 L1507.2,906.9 L1514.5,890.0 L1522.0,875.0 L1534.0,860.0 L1546.4,846.1 L1553.9,818.7 L1558.8,788.9 L1563.8,751.5 L1568.8,701.8 L1571.3,664.4 L1577.5,627.1 L1581.2,589.8 L1586.2,540.0 L1589.0,497.0 L1596.2,436.4 L1602.4,374.2 L1608.6,312.0 L1617.0,261.0 L1622.8,230.0 L1628.8,208.0 L1630.0,203.1" stroke-width="4.15"/></g>
<g fill="#000"><rect x="1625.8" y="199.0" width="8.3" height="8.3"/><rect x="1628.5" y="188.3" width="8.3" height="8.3"/><rect x="1632.5" y="178.1" width="8.3" height="8.3"/><rect x="1638.8" y="169.2" width="8.3" height="8.3"/><rect x="1647.7" y="162.8" width="8.3" height="8.3"/><rect x="1655.7" y="168.7" width="8.3" height="8.3"/><rect x="1659.9" y="178.9" width="8.3" height="8.3"/><rect x="1663.4" y="189.3" width="8.3" height="8.3"/><rect x="1666.3" y="199.9" width="8.3" height="8.3"/><rect x="1668.9" y="210.6" width="8.3" height="8.3"/></g>
<g stroke="#000" fill="none" stroke-linejoin="round" stroke-linecap="round"><path d="M1674.0,218.1 L1677.6,230.2 L1681.0,250.0 L1685.5,270.0 L1690.7,299.6 L1697.0,338.0 L1700.0,355.5" stroke-width="7.64"/><path transform="translate(-2.075,-2.075)" d="M1674.0,218.1 L1677.6,230.2 L1681.0,250.0 L1685.5,270.0 L1690.7,299.6 L1697.0,338.0 L1700.0,355.5" stroke-width="4.15"/><path transform="translate(2.075,-2.075)" d="M1674.0,218.1 L1677.6,230.2 L1681.0,250.0 L1685.5,270.0 L1690.7,299.6 L1697.0,338.0 L1700.0,355.5" stroke-width="4.15"/><path transform="translate(-2.075,2.075)" d="M1674.0,218.1 L1677.6,230.2 L1681.0,250.0 L1685.5,270.0 L1690.7,299.6 L1697.0,338.0 L1700.0,355.5" stroke-width="4.15"/><path transform="translate(2.075,2.075)" d="M1674.0,218.1 L1677.6,230.2 L1681.0,250.0 L1685.5,270.0 L1690.7,299.6 L1697.0,338.0 L1700.0,355.5" stroke-width="4.15"/></g>
<g fill="#000"><rect x="1695.8" y="351.4" width="8.3" height="8.3"/><rect x="1698.0" y="364.2" width="8.3" height="8.3"/><rect x="1700.9" y="376.9" width="8.3" height="8.3"/><rect x="1704.2" y="389.4" width="8.3" height="8.3"/><rect x="1707.5" y="402.0" width="8.3" height="8.3"/><rect x="1710.7" y="414.6" width="8.3" height="8.3"/><rect x="1713.8" y="427.2" width="8.3" height="8.3"/><rect x="1716.9" y="439.9" width="8.3" height="8.3"/><rect x="1721.7" y="451.9" width="8.3" height="8.3"/></g>
<g stroke="#000" fill="none" stroke-linejoin="round" stroke-linecap="round"><path d="M1730.0,467.4 L1736.4,487.0 L1745.0,508.3 L1756.3,525.4 L1766.3,536.7 L1779.1,539.6 L1784.0,540.0" stroke-width="7.64"/><path transform="translate(-2.075,-2.075)" d="M1730.0,467.4 L1736.4,487.0 L1745.0,508.3 L1756.3,525.4 L1766.3,536.7 L1779.1,539.6 L1784.0,540.0" stroke-width="4.15"/><path transform="translate(2.075,-2.075)" d="M1730.0,467.4 L1736.4,487.0 L1745.0,508.3 L1756.3,525.4 L1766.3,536.7 L1779.1,539.6 L1784.0,540.0" stroke-width="4.15"/><path transform="translate(-2.075,2.075)" d="M1730.0,467.4 L1736.4,487.0 L1745.0,508.3 L1756.3,525.4 L1766.3,536.7 L1779.1,539.6 L1784.0,540.0" stroke-width="4.15"/><path transform="translate(2.075,2.075)" d="M1730.0,467.4 L1736.4,487.0 L1745.0,508.3 L1756.3,525.4 L1766.3,536.7 L1779.1,539.6 L1784.0,540.0" stroke-width="4.15"/></g>
<g stroke="#000" fill="none" stroke-linejoin="round" stroke-linecap="round"><path d="M268.2,1043.5 L283.4,1049.5 L294.3,1051.0 L310.5,1050.5 L326.8,1050.0 L337.7,1051.5" stroke-width="7.64"/><path transform="translate(-2.075,-2.075)" d="M268.2,1043.5 L283.4,1049.5 L294.3,1051.0 L310.5,1050.5 L326.8,1050.0 L337.7,1051.5" stroke-width="4.15"/><path transform="translate(2.075,-2.075)" d="M268.2,1043.5 L283.4,1049.5 L294.3,1051.0 L310.5,1050.5 L326.8,1050.0 L337.7,1051.5" stroke-width="4.15"/><path transform="translate(-2.075,2.075)" d="M268.2,1043.5 L283.4,1049.5 L294.3,1051.0 L310.5,1050.5 L326.8,1050.0 L337.7,1051.5" stroke-width="4.15"/><path transform="translate(2.075,2.075)" d="M268.2,1043.5 L283.4,1049.5 L294.3,1051.0 L310.5,1050.5 L326.8,1050.0 L337.7,1051.5" stroke-width="4.15"/></g>
<g stroke="#ff0000" fill="none" stroke-linejoin="round" stroke-linecap="round"><path d="M245.4,1078.6 L245.4,1055.8 L252.0,1051.5 L261.7,1039.5 L263.9,1052.6 L259.5,1072.1 L250.9,1076.4 L262.0,1069.0 L272.6,1068.0 L283.4,1066.0 L286.7,1070.0 L294.3,1065.0 L305.1,1066.5 L316.0,1061.0 L326.8,1064.5 L337.7,1062.5 L348.5,1062.3 L359.4,1064.0 L370.2,1055.6 L375.7,1060.4 L381.1,1052.4 L391.9,1046.9 L397.4,1050.6 L413.6,1048.3 L424.5,1047.2 L435.4,1043.7 L446.2,1042.8 L455.8,1040.5 L466.0,1033.5 L471.0,1036.5 L476.0,1034.0 L481.0,1029.7 L486.0,1031.8 L487.4,1028.2 L491.0,1032.9 L496.0,1036.1 L501.0,1038.5 L505.5,1041.7 L506.0,1033.8 L511.0,1031.6 L516.0,1036.3 L521.0,1032.6 L522.1,1023.5 L526.0,1031.3 L530.0,1040.2 L531.0,1023.0 L536.0,1026.7 L539.4,1013.2 L541.0,1028.3 L546.0,1022.1 L548.9,1032.3 L551.0,1025.7 L556.0,1025.6 L561.0,1017.9 L566.0,1015.3 L571.0,1018.4 L574.2,1014.0 L576.0,1020.5 L581.0,1014.8 L582.1,1023.6 L586.0,1012.5 L591.0,1013.2 L591.5,1007.7 L596.0,1008.8 L601.0,1009.2 L606.0,1011.1 L611.0,1011.8 L616.0,1011.5 L621.0,1011.8 L622.2,1008.6 L626.0,1010.7 L627.6,1021.9 L631.0,1011.2 L636.0,1009.4 L641.0,1005.6 L646.0,1008.9 L651.0,1005.7 L656.0,1004.9 L661.0,1000.2 L666.0,1004.2 L671.0,1001.7 L676.0,994.8 L681.0,994.2 L686.0,994.7 L691.0,992.3 L696.0,992.3 L699.2,985.4 L700.5,996.3 L704.6,984.3 L705.0,997.6 L709.5,987.3 L714.0,989.2 L715.4,1004.3 L718.5,1001.1 L723.0,999.2 L727.5,998.9 L728.9,1007.0 L732.0,993.2 L734.3,978.9 L736.5,994.6 L739.7,1005.7 L741.0,996.1 L745.5,999.5 L749.2,976.2 L750.0,995.7 L754.5,997.2 L754.6,1031.4 L759.0,994.6 L763.5,1000.1 L766.8,983.0 L768.0,1000.7 L772.5,999.1 L777.0,998.9 L777.3,988.1 L781.5,1001.6 L786.0,1000.5 L788.1,1029.5 L790.5,998.3 L795.0,997.5 L796.6,990.5 L799.5,998.9 L804.0,992.5 L808.5,992.9 L813.0,999.3 L817.5,992.5 L820.8,1008.9 L822.0,994.0 L826.5,990.6 L829.2,971.2 L831.0,983.5 L835.3,1008.9 L835.5,983.6 L840.0,981.9 L841.3,966.4 L844.5,989.9 L849.0,993.0 L853.5,984.5 L854.6,1002.9 L858.0,975.9 L862.5,977.6 L866.7,961.5 L867.0,971.4 L871.5,974.1 L872.7,941.0 L876.0,975.2 L876.4,954.3 L880.5,974.9 L883.6,1027.0 L885.0,977.7 L889.5,978.9 L890.9,963.9 L894.0,986.1 L898.5,978.7 L903.0,973.9 L912.6,963.9 L921.1,964.9 L929.6,967.8 L941.6,961.5 L953.7,961.8 L969.4,959.1 L981.5,966.4 L988.0,973.5 L995.0,966.5 L1005.0,952.0 L1015.0,947.0 L1040.0,948.9 L1053.8,956.6 L1065.7,938.8 L1089.3,942.7 L1118.9,934.9 L1150.5,928.9 L1158.4,938.8 L1182.1,928.9 L1207.7,925.0 L1237.3,918.1 L1276.8,913.1 L1316.3,911.2 L1355.7,901.3 L1398.7,897.0 L1440.0,891.4 L1472.7,885.9 L1497.3,879.7 L1522.0,872.3 L1536.4,865.0 L1556.5,857.0 L1568.8,843.6 L1582.0,826.0" stroke-width="7.64"/><path transform="translate(-2.075,-2.075)" d="M245.4,1078.6 L245.4,1055.8 L252.0,1051.5 L261.7,1039.5 L263.9,1052.6 L259.5,1072.1 L250.9,1076.4 L262.0,1069.0 L272.6,1068.0 L283.4,1066.0 L286.7,1070.0 L294.3,1065.0 L305.1,1066.5 L316.0,1061.0 L326.8,1064.5 L337.7,1062.5 L348.5,1062.3 L359.4,1064.0 L370.2,1055.6 L375.7,1060.4 L381.1,1052.4 L391.9,1046.9 L397.4,1050.6 L413.6,1048.3 L424.5,1047.2 L435.4,1043.7 L446.2,1042.8 L455.8,1040.5 L466.0,1033.5 L471.0,1036.5 L476.0,1034.0 L481.0,1029.7 L486.0,1031.8 L487.4,1028.2 L491.0,1032.9 L496.0,1036.1 L501.0,1038.5 L505.5,1041.7 L506.0,1033.8 L511.0,1031.6 L516.0,1036.3 L521.0,1032.6 L522.1,1023.5 L526.0,1031.3 L530.0,1040.2 L531.0,1023.0 L536.0,1026.7 L539.4,1013.2 L541.0,1028.3 L546.0,1022.1 L548.9,1032.3 L551.0,1025.7 L556.0,1025.6 L561.0,1017.9 L566.0,1015.3 L571.0,1018.4 L574.2,1014.0 L576.0,1020.5 L581.0,1014.8 L582.1,1023.6 L586.0,1012.5 L591.0,1013.2 L591.5,1007.7 L596.0,1008.8 L601.0,1009.2 L606.0,1011.1 L611.0,1011.8 L616.0,1011.5 L621.0,1011.8 L622.2,1008.6 L626.0,1010.7 L627.6,1021.9 L631.0,1011.2 L636.0,1009.4 L641.0,1005.6 L646.0,1008.9 L651.0,1005.7 L656.0,1004.9 L661.0,1000.2 L666.0,1004.2 L671.0,1001.7 L676.0,994.8 L681.0,994.2 L686.0,994.7 L691.0,992.3 L696.0,992.3 L699.2,985.4 L700.5,996.3 L704.6,984.3 L705.0,997.6 L709.5,987.3 L714.0,989.2 L715.4,1004.3 L718.5,1001.1 L723.0,999.2 L727.5,998.9 L728.9,1007.0 L732.0,993.2 L734.3,978.9 L736.5,994.6 L739.7,1005.7 L741.0,996.1 L745.5,999.5 L749.2,976.2 L750.0,995.7 L754.5,997.2 L754.6,1031.4 L759.0,994.6 L763.5,1000.1 L766.8,983.0 L768.0,1000.7 L772.5,999.1 L777.0,998.9 L777.3,988.1 L781.5,1001.6 L786.0,1000.5 L788.1,1029.5 L790.5,998.3 L795.0,997.5 L796.6,990.5 L799.5,998.9 L804.0,992.5 L808.5,992.9 L813.0,999.3 L817.5,992.5 L820.8,1008.9 L822.0,994.0 L826.5,990.6 L829.2,971.2 L831.0,983.5 L835.3,1008.9 L835.5,983.6 L840.0,981.9 L841.3,966.4 L844.5,989.9 L849.0,993.0 L853.5,984.5 L854.6,1002.9 L858.0,975.9 L862.5,977.6 L866.7,961.5 L867.0,971.4 L871.5,974.1 L872.7,941.0 L876.0,975.2 L876.4,954.3 L880.5,974.9 L883.6,1027.0 L885.0,977.7 L889.5,978.9 L890.9,963.9 L894.0,986.1 L898.5,978.7 L903.0,973.9 L912.6,963.9 L921.1,964.9 L929.6,967.8 L941.6,961.5 L953.7,961.8 L969.4,959.1 L981.5,966.4 L988.0,973.5 L995.0,966.5 L1005.0,952.0 L1015.0,947.0 L1040.0,948.9 L1053.8,956.6 L1065.7,938.8 L1089.3,942.7 L1118.9,934.9 L1150.5,928.9 L1158.4,938.8 L1182.1,928.9 L1207.7,925.0 L1237.3,918.1 L1276.8,913.1 L1316.3,911.2 L1355.7,901.3 L1398.7,897.0 L1440.0,891.4 L1472.7,885.9 L1497.3,879.7 L1522.0,872.3 L1536.4,865.0 L1556.5,857.0 L1568.8,843.6 L1582.0,826.0" stroke-width="4.15"/><path transform="translate(2.075,-2.075)" d="M245.4,1078.6 L245.4,1055.8 L252.0,1051.5 L261.7,1039.5 L263.9,1052.6 L259.5,1072.1 L250.9,1076.4 L262.0,1069.0 L272.6,1068.0 L283.4,1066.0 L286.7,1070.0 L294.3,1065.0 L305.1,1066.5 L316.0,1061.0 L326.8,1064.5 L337.7,1062.5 L348.5,1062.3 L359.4,1064.0 L370.2,1055.6 L375.7,1060.4 L381.1,1052.4 L391.9,1046.9 L397.4,1050.6 L413.6,1048.3 L424.5,1047.2 L435.4,1043.7 L446.2,1042.8 L455.8,1040.5 L466.0,1033.5 L471.0,1036.5 L476.0,1034.0 L481.0,1029.7 L486.0,1031.8 L487.4,1028.2 L491.0,1032.9 L496.0,1036.1 L501.0,1038.5 L505.5,1041.7 L506.0,1033.8 L511.0,1031.6 L516.0,1036.3 L521.0,1032.6 L522.1,1023.5 L526.0,1031.3 L530.0,1040.2 L531.0,1023.0 L536.0,1026.7 L539.4,1013.2 L541.0,1028.3 L546.0,1022.1 L548.9,1032.3 L551.0,1025.7 L556.0,1025.6 L561.0,1017.9 L566.0,1015.3 L571.0,1018.4 L574.2,1014.0 L576.0,1020.5 L581.0,1014.8 L582.1,1023.6 L586.0,1012.5 L591.0,1013.2 L591.5,1007.7 L596.0,1008.8 L601.0,1009.2 L606.0,1011.1 L611.0,1011.8 L616.0,1011.5 L621.0,1011.8 L622.2,1008.6 L626.0,1010.7 L627.6,1021.9 L631.0,1011.2 L636.0,1009.4 L641.0,1005.6 L646.0,1008.9 L651.0,1005.7 L656.0,1004.9 L661.0,1000.2 L666.0,1004.2 L671.0,1001.7 L676.0,994.8 L681.0,994.2 L686.0,994.7 L691.0,992.3 L696.0,992.3 L699.2,985.4 L700.5,996.3 L704.6,984.3 L705.0,997.6 L709.5,987.3 L714.0,989.2 L715.4,1004.3 L718.5,1001.1 L723.0,999.2 L727.5,998.9 L728.9,1007.0 L732.0,993.2 L734.3,978.9 L736.5,994.6 L739.7,1005.7 L741.0,996.1 L745.5,999.5 L749.2,976.2 L750.0,995.7 L754.5,997.2 L754.6,1031.4 L759.0,994.6 L763.5,1000.1 L766.8,983.0 L768.0,1000.7 L772.5,999.1 L777.0,998.9 L777.3,988.1 L781.5,1001.6 L786.0,1000.5 L788.1,1029.5 L790.5,998.3 L795.0,997.5 L796.6,990.5 L799.5,998.9 L804.0,992.5 L808.5,992.9 L813.0,999.3 L817.5,992.5 L820.8,1008.9 L822.0,994.0 L826.5,990.6 L829.2,971.2 L831.0,983.5 L835.3,1008.9 L835.5,983.6 L840.0,981.9 L841.3,966.4 L844.5,989.9 L849.0,993.0 L853.5,984.5 L854.6,1002.9 L858.0,975.9 L862.5,977.6 L866.7,961.5 L867.0,971.4 L871.5,974.1 L872.7,941.0 L876.0,975.2 L876.4,954.3 L880.5,974.9 L883.6,1027.0 L885.0,977.7 L889.5,978.9 L890.9,963.9 L894.0,986.1 L898.5,978.7 L903.0,973.9 L912.6,963.9 L921.1,964.9 L929.6,967.8 L941.6,961.5 L953.7,961.8 L969.4,959.1 L981.5,966.4 L988.0,973.5 L995.0,966.5 L1005.0,952.0 L1015.0,947.0 L1040.0,948.9 L1053.8,956.6 L1065.7,938.8 L1089.3,942.7 L1118.9,934.9 L1150.5,928.9 L1158.4,938.8 L1182.1,928.9 L1207.7,925.0 L1237.3,918.1 L1276.8,913.1 L1316.3,911.2 L1355.7,901.3 L1398.7,897.0 L1440.0,891.4 L1472.7,885.9 L1497.3,879.7 L1522.0,872.3 L1536.4,865.0 L1556.5,857.0 L1568.8,843.6 L1582.0,826.0" stroke-width="4.15"/><path transform="translate(-2.075,2.075)" d="M245.4,1078.6 L245.4,1055.8 L252.0,1051.5 L261.7,1039.5 L263.9,1052.6 L259.5,1072.1 L250.9,1076.4 L262.0,1069.0 L272.6,1068.0 L283.4,1066.0 L286.7,1070.0 L294.3,1065.0 L305.1,1066.5 L316.0,1061.0 L326.8,1064.5 L337.7,1062.5 L348.5,1062.3 L359.4,1064.0 L370.2,1055.6 L375.7,1060.4 L381.1,1052.4 L391.9,1046.9 L397.4,1050.6 L413.6,1048.3 L424.5,1047.2 L435.4,1043.7 L446.2,1042.8 L455.8,1040.5 L466.0,1033.5 L471.0,1036.5 L476.0,1034.0 L481.0,1029.7 L486.0,1031.8 L487.4,1028.2 L491.0,1032.9 L496.0,1036.1 L501.0,1038.5 L505.5,1041.7 L506.0,1033.8 L511.0,1031.6 L516.0,1036.3 L521.0,1032.6 L522.1,1023.5 L526.0,1031.3 L530.0,1040.2 L531.0,1023.0 L536.0,1026.7 L539.4,1013.2 L541.0,1028.3 L546.0,1022.1 L548.9,1032.3 L551.0,1025.7 L556.0,1025.6 L561.0,1017.9 L566.0,1015.3 L571.0,1018.4 L574.2,1014.0 L576.0,1020.5 L581.0,1014.8 L582.1,1023.6 L586.0,1012.5 L591.0,1013.2 L591.5,1007.7 L596.0,1008.8 L601.0,1009.2 L606.0,1011.1 L611.0,1011.8 L616.0,1011.5 L621.0,1011.8 L622.2,1008.6 L626.0,1010.7 L627.6,1021.9 L631.0,1011.2 L636.0,1009.4 L641.0,1005.6 L646.0,1008.9 L651.0,1005.7 L656.0,1004.9 L661.0,1000.2 L666.0,1004.2 L671.0,1001.7 L676.0,994.8 L681.0,994.2 L686.0,994.7 L691.0,992.3 L696.0,992.3 L699.2,985.4 L700.5,996.3 L704.6,984.3 L705.0,997.6 L709.5,987.3 L714.0,989.2 L715.4,1004.3 L718.5,1001.1 L723.0,999.2 L727.5,998.9 L728.9,1007.0 L732.0,993.2 L734.3,978.9 L736.5,994.6 L739.7,1005.7 L741.0,996.1 L745.5,999.5 L749.2,976.2 L750.0,995.7 L754.5,997.2 L754.6,1031.4 L759.0,994.6 L763.5,1000.1 L766.8,983.0 L768.0,1000.7 L772.5,999.1 L777.0,998.9 L777.3,988.1 L781.5,1001.6 L786.0,1000.5 L788.1,1029.5 L790.5,998.3 L795.0,997.5 L796.6,990.5 L799.5,998.9 L804.0,992.5 L808.5,992.9 L813.0,999.3 L817.5,992.5 L820.8,1008.9 L822.0,994.0 L826.5,990.6 L829.2,971.2 L831.0,983.5 L835.3,1008.9 L835.5,983.6 L840.0,981.9 L841.3,966.4 L844.5,989.9 L849.0,993.0 L853.5,984.5 L854.6,1002.9 L858.0,975.9 L862.5,977.6 L866.7,961.5 L867.0,971.4 L871.5,974.1 L872.7,941.0 L876.0,975.2 L876.4,954.3 L880.5,974.9 L883.6,1027.0 L885.0,977.7 L889.5,978.9 L890.9,963.9 L894.0,986.1 L898.5,978.7 L903.0,973.9 L912.6,963.9 L921.1,964.9 L929.6,967.8 L941.6,961.5 L953.7,961.8 L969.4,959.1 L981.5,966.4 L988.0,973.5 L995.0,966.5 L1005.0,952.0 L1015.0,947.0 L1040.0,948.9 L1053.8,956.6 L1065.7,938.8 L1089.3,942.7 L1118.9,934.9 L1150.5,928.9 L1158.4,938.8 L1182.1,928.9 L1207.7,925.0 L1237.3,918.1 L1276.8,913.1 L1316.3,911.2 L1355.7,901.3 L1398.7,897.0 L1440.0,891.4 L1472.7,885.9 L1497.3,879.7 L1522.0,872.3 L1536.4,865.0 L1556.5,857.0 L1568.8,843.6 L1582.0,826.0" stroke-width="4.15"/><path transform="translate(2.075,2.075)" d="M245.4,1078.6 L245.4,1055.8 L252.0,1051.5 L261.7,1039.5 L263.9,1052.6 L259.5,1072.1 L250.9,1076.4 L262.0,1069.0 L272.6,1068.0 L283.4,1066.0 L286.7,1070.0 L294.3,1065.0 L305.1,1066.5 L316.0,1061.0 L326.8,1064.5 L337.7,1062.5 L348.5,1062.3 L359.4,1064.0 L370.2,1055.6 L375.7,1060.4 L381.1,1052.4 L391.9,1046.9 L397.4,1050.6 L413.6,1048.3 L424.5,1047.2 L435.4,1043.7 L446.2,1042.8 L455.8,1040.5 L466.0,1033.5 L471.0,1036.5 L476.0,1034.0 L481.0,1029.7 L486.0,1031.8 L487.4,1028.2 L491.0,1032.9 L496.0,1036.1 L501.0,1038.5 L505.5,1041.7 L506.0,1033.8 L511.0,1031.6 L516.0,1036.3 L521.0,1032.6 L522.1,1023.5 L526.0,1031.3 L530.0,1040.2 L531.0,1023.0 L536.0,1026.7 L539.4,1013.2 L541.0,1028.3 L546.0,1022.1 L548.9,1032.3 L551.0,1025.7 L556.0,1025.6 L561.0,1017.9 L566.0,1015.3 L571.0,1018.4 L574.2,1014.0 L576.0,1020.5 L581.0,1014.8 L582.1,1023.6 L586.0,1012.5 L591.0,1013.2 L591.5,1007.7 L596.0,1008.8 L601.0,1009.2 L606.0,1011.1 L611.0,1011.8 L616.0,1011.5 L621.0,1011.8 L622.2,1008.6 L626.0,1010.7 L627.6,1021.9 L631.0,1011.2 L636.0,1009.4 L641.0,1005.6 L646.0,1008.9 L651.0,1005.7 L656.0,1004.9 L661.0,1000.2 L666.0,1004.2 L671.0,1001.7 L676.0,994.8 L681.0,994.2 L686.0,994.7 L691.0,992.3 L696.0,992.3 L699.2,985.4 L700.5,996.3 L704.6,984.3 L705.0,997.6 L709.5,987.3 L714.0,989.2 L715.4,1004.3 L718.5,1001.1 L723.0,999.2 L727.5,998.9 L728.9,1007.0 L732.0,993.2 L734.3,978.9 L736.5,994.6 L739.7,1005.7 L741.0,996.1 L745.5,999.5 L749.2,976.2 L750.0,995.7 L754.5,997.2 L754.6,1031.4 L759.0,994.6 L763.5,1000.1 L766.8,983.0 L768.0,1000.7 L772.5,999.1 L777.0,998.9 L777.3,988.1 L781.5,1001.6 L786.0,1000.5 L788.1,1029.5 L790.5,998.3 L795.0,997.5 L796.6,990.5 L799.5,998.9 L804.0,992.5 L808.5,992.9 L813.0,999.3 L817.5,992.5 L820.8,1008.9 L822.0,994.0 L826.5,990.6 L829.2,971.2 L831.0,983.5 L835.3,1008.9 L835.5,983.6 L840.0,981.9 L841.3,966.4 L844.5,989.9 L849.0,993.0 L853.5,984.5 L854.6,1002.9 L858.0,975.9 L862.5,977.6 L866.7,961.5 L867.0,971.4 L871.5,974.1 L872.7,941.0 L876.0,975.2 L876.4,954.3 L880.5,974.9 L883.6,1027.0 L885.0,977.7 L889.5,978.9 L890.9,963.9 L894.0,986.1 L898.5,978.7 L903.0,973.9 L912.6,963.9 L921.1,964.9 L929.6,967.8 L941.6,961.5 L953.7,961.8 L969.4,959.1 L981.5,966.4 L988.0,973.5 L995.0,966.5 L1005.0,952.0 L1015.0,947.0 L1040.0,948.9 L1053.8,956.6 L1065.7,938.8 L1089.3,942.7 L1118.9,934.9 L1150.5,928.9 L1158.4,938.8 L1182.1,928.9 L1207.7,925.0 L1237.3,918.1 L1276.8,913.1 L1316.3,911.2 L1355.7,901.3 L1398.7,897.0 L1440.0,891.4 L1472.7,885.9 L1497.3,879.7 L1522.0,872.3 L1536.4,865.0 L1556.5,857.0 L1568.8,843.6 L1582.0,826.0" stroke-width="4.15"/></g>
<g fill="#ff0000"><rect x="1577.8" y="821.8" width="8.3" height="8.3"/><rect x="1582.1" y="811.8" width="8.3" height="8.3"/><rect x="1585.6" y="801.4" width="8.3" height="8.3"/><rect x="1588.3" y="790.7" width="8.3" height="8.3"/><rect x="1590.5" y="780.0" width="8.3" height="8.3"/><rect x="1592.7" y="769.2" width="8.3" height="8.3"/><rect x="1594.8" y="758.4" width="8.3" height="8.3"/></g>
<g stroke="#ff0000" fill="none" stroke-linejoin="round" stroke-linecap="round"><path d="M1600.0,757.5 L1608.6,714.2 L1613.6,664.4 L1618.6,602.2 L1621.0,552.0 L1625.4,497.0 L1629.0,470.0 L1634.0,440.0 L1643.5,374.2 L1653.0,270.0 L1656.9,222.8 L1662.8,185.8 L1667.2,156.2 L1670.0,142.4" stroke-width="7.64"/><path transform="translate(-2.075,-2.075)" d="M1600.0,757.5 L1608.6,714.2 L1613.6,664.4 L1618.6,602.2 L1621.0,552.0 L1625.4,497.0 L1629.0,470.0 L1634.0,440.0 L1643.5,374.2 L1653.0,270.0 L1656.9,222.8 L1662.8,185.8 L1667.2,156.2 L1670.0,142.4" stroke-width="4.15"/><path transform="translate(2.075,-2.075)" d="M1600.0,757.5 L1608.6,714.2 L1613.6,664.4 L1618.6,602.2 L1621.0,552.0 L1625.4,497.0 L1629.0,470.0 L1634.0,440.0 L1643.5,374.2 L1653.0,270.0 L1656.9,222.8 L1662.8,185.8 L1667.2,156.2 L1670.0,142.4" stroke-width="4.15"/><path transform="translate(-2.075,2.075)" d="M1600.0,757.5 L1608.6,714.2 L1613.6,664.4 L1618.6,602.2 L1621.0,552.0 L1625.4,497.0 L1629.0,470.0 L1634.0,440.0 L1643.5,374.2 L1653.0,270.0 L1656.9,222.8 L1662.8,185.8 L1667.2,156.2 L1670.0,142.4" stroke-width="4.15"/><path transform="translate(2.075,2.075)" d="M1600.0,757.5 L1608.6,714.2 L1613.6,664.4 L1618.6,602.2 L1621.0,552.0 L1625.4,497.0 L1629.0,470.0 L1634.0,440.0 L1643.5,374.2 L1653.0,270.0 L1656.9,222.8 L1662.8,185.8 L1667.2,156.2 L1670.0,142.4" stroke-width="4.15"/></g>
<g fill="#ff0000"><rect x="1665.8" y="138.2" width="8.3" height="8.3"/><rect x="1667.9" y="127.9" width="8.3" height="8.3"/><rect x="1669.6" y="117.6" width="8.3" height="8.3"/><rect x="1672.2" y="107.5" width="8.3" height="8.3"/><rect x="1677.4" y="98.9" width="8.3" height="8.3"/><rect x="1685.5" y="102.1" width="8.3" height="8.3"/><rect x="1689.3" y="111.7" width="8.3" height="8.3"/><rect x="1692.2" y="121.8" width="8.3" height="8.3"/><rect x="1694.9" y="132.0" width="8.3" height="8.3"/></g>
<g stroke="#ff0000" fill="none" stroke-linejoin="round" stroke-linecap="round"><path d="M1700.0,139.5 L1700.5,141.4 L1704.2,157.7 L1707.2,172.5 L1711.6,190.2 L1716.1,208.0 L1720.5,230.2 L1724.2,252.4 L1725.0,257.8" stroke-width="7.64"/><path transform="translate(-2.075,-2.075)" d="M1700.0,139.5 L1700.5,141.4 L1704.2,157.7 L1707.2,172.5 L1711.6,190.2 L1716.1,208.0 L1720.5,230.2 L1724.2,252.4 L1725.0,257.8" stroke-width="4.15"/><path transform="translate(2.075,-2.075)" d="M1700.0,139.5 L1700.5,141.4 L1704.2,157.7 L1707.2,172.5 L1711.6,190.2 L1716.1,208.0 L1720.5,230.2 L1724.2,252.4 L1725.0,257.8" stroke-width="4.15"/><path transform="translate(-2.075,2.075)" d="M1700.0,139.5 L1700.5,141.4 L1704.2,157.7 L1707.2,172.5 L1711.6,190.2 L1716.1,208.0 L1720.5,230.2 L1724.2,252.4 L1725.0,257.8" stroke-width="4.15"/><path transform="translate(2.075,2.075)" d="M1700.0,139.5 L1700.5,141.4 L1704.2,157.7 L1707.2,172.5 L1711.6,190.2 L1716.1,208.0 L1720.5,230.2 L1724.2,252.4 L1725.0,257.8" stroke-width="4.15"/></g>
<g fill="#ff0000"><rect x="1720.8" y="253.7" width="8.3" height="8.3"/><rect x="1723.0" y="268.5" width="8.3" height="8.3"/><rect x="1725.2" y="283.3" width="8.3" height="8.3"/><rect x="1727.4" y="298.2" width="8.3" height="8.3"/><rect x="1729.9" y="313.0" width="8.3" height="8.3"/><rect x="1732.8" y="327.7" width="8.3" height="8.3"/><rect x="1735.8" y="342.4" width="8.3" height="8.3"/><rect x="1738.7" y="357.1" width="8.3" height="8.3"/><rect x="1742.2" y="371.7" width="8.3" height="8.3"/><rect x="1745.6" y="386.3" width="8.3" height="8.3"/><rect x="1749.1" y="400.9" width="8.3" height="8.3"/><rect x="1753.5" y="415.2" width="8.3" height="8.3"/><rect x="1757.9" y="429.6" width="8.3" height="8.3"/><rect x="1764.4" y="443.1" width="8.3" height="8.3"/><rect x="1770.5" y="456.8" width="8.3" height="8.3"/><rect x="1772.2" y="471.5" width="8.3" height="8.3"/></g>
<g stroke="#ff0000" fill="none" stroke-linejoin="round" stroke-linecap="round"><path d="M1777.0,475.8 L1781.9,477.0 L1789.0,481.3" stroke-width="7.64"/><path transform="translate(-2.075,-2.075)" d="M1777.0,475.8 L1781.9,477.0 L1789.0,481.3" stroke-width="4.15"/><path transform="translate(2.075,-2.075)" d="M1777.0,475.8 L1781.9,477.0 L1789.0,481.3" stroke-width="4.15"/><path transform="translate(-2.075,2.075)" d="M1777.0,475.8 L1781.9,477.0 L1789.0,481.3" stroke-width="4.15"/><path transform="translate(2.075,2.075)" d="M1777.0,475.8 L1781.9,477.0 L1789.0,481.3" stroke-width="4.15"/></g>
<g stroke="#00ff00" fill="none" stroke-linejoin="round" stroke-linecap="round"><path d="M275.0,914.0 L275.0,1008.0" stroke-width="7.64"/><path transform="translate(-2.075,-2.075)" d="M275.0,914.0 L275.0,1008.0" stroke-width="4.15"/><path transform="translate(2.075,-2.075)" d="M275.0,914.0 L275.0,1008.0" stroke-width="4.15"/><path transform="translate(-2.075,2.075)" d="M275.0,914.0 L275.0,1008.0" stroke-width="4.15"/><path transform="translate(2.075,2.075)" d="M275.0,914.0 L275.0,1008.0" stroke-width="4.15"/></g>
<polygon fill="#00ff00" points="640,921 654.4,922 674,929 713.6,941 753,952.8 792.5,964.6 832,976.4 871.4,984.3 871.4,996.1 832,992.2 792.5,984.3 753,976.4 733.3,976.4 713.6,972.4 674,964.6 654.4,956.7 640,952"/>
<g stroke="#00ff00" fill="none" stroke-linejoin="round" stroke-linecap="round"><path d="M275.5,951.0 L299.2,945.1 L338.7,935.3 L378.1,927.4 L417.6,924.0 L457.1,918.0 L460.0,916.6 L465.0,918.1 L470.0,916.9 L475.0,918.2 L480.0,918.3 L485.0,914.9 L490.0,914.5 L495.0,919.3 L500.0,915.7 L505.0,915.6 L510.0,920.4 L515.0,917.6 L520.0,920.3 L525.0,918.9 L530.0,920.4 L535.0,917.9 L540.0,921.2 L545.0,922.9 L550.0,921.2 L555.0,922.9 L560.0,923.6 L565.0,920.5 L570.0,924.5 L573.5,928.7 L575.0,923.1 L577.6,919.5 L580.0,925.3 L580.5,923.5 L584.5,920.7 L588.5,921.6 L592.4,948.9 L592.5,920.3 L596.5,920.5 L599.2,893.8 L600.5,926.8 L604.5,932.0 L604.6,939.5 L608.5,929.6 L611.4,942.2 L612.5,929.7 L614.0,900.5 L616.5,921.8 L619.5,946.2 L620.5,923.2 L624.5,919.4 L626.2,897.8 L628.5,921.6 L632.5,918.6 L636.5,915.7 L638.4,950.3 L640.5,927.5 L644.5,928.7 L646.5,899.2 L648.5,926.3 L652.5,924.4 L656.5,919.1 L660.0,911.3 L660.5,927.0 L664.5,934.6 L668.5,937.9 L669.5,961.1 L672.5,943.6 L676.2,930.3 L676.5,948.3 L680.5,936.7 L684.5,941.5 L688.4,950.3 L688.5,944.4 L692.5,943.3 L695.1,920.8 L696.5,941.1 L697.8,966.5 L700.5,948.3 L703.2,941.1 L704.5,945.8 L708.5,962.3 L712.5,961.5 L715.4,971.9 L716.5,957.6 L720.5,956.9 L724.5,967.7 L724.9,947.8 L728.5,963.0 L732.5,966.8 L735.7,971.9 L736.5,966.3 L740.5,963.2 L744.5,963.4 L748.5,966.6 L749.2,957.3 L752.5,963.5 L756.5,958.9 L760.0,971.9 L760.5,960.7 L764.5,969.5 L768.5,959.7 L769.5,957.3 L772.5,958.9 L776.5,966.5 L780.5,963.6 L784.5,969.8 L785.7,961.5 L788.5,969.6 L792.5,968.9 L794.2,981.1 L796.5,979.1 L800.2,966.4 L800.5,969.3 L804.5,973.2 L808.5,970.1 L812.5,976.5 L816.5,973.0 L820.5,975.2 L824.5,982.0 L828.5,977.0 L832.5,981.6 L836.5,987.8 L840.5,978.0 L844.5,979.7 L848.5,983.4 L852.5,991.5 L856.5,990.2 L857.0,999.2 L860.5,987.9 L864.5,996.7 L865.5,982.1 L868.5,991.9 L872.5,992.9 L876.4,1041.5 L876.5,988.8 L880.5,998.3 L881.2,956.7 L883.6,976.0 L884.5,1002.0 L888.5,1006.9 L892.5,1003.1 L895.7,992.9 L896.5,1011.1 L900.5,999.8 L901.8,1045.2 L904.5,1005.0 L906.6,1003.8 L915.0,999.1 L927.1,1004.0 L951.3,1011.2 L975.5,1014.8 L990.0,1016.0 L1015.0,1017.0 L1040.0,1017.7 L1079.5,1017.7 L1120.0,1005.8 L1143.7,1001.0 L1167.4,991.6 L1187.1,978.9 L1206.8,967.9 L1222.6,956.0 L1238.4,945.8 L1250.2,934.7 L1257.1,919.1 L1276.8,889.5 L1290.6,865.8 L1300.0,853.6" stroke-width="7.64"/><path transform="translate(-2.075,-2.075)" d="M275.5,951.0 L299.2,945.1 L338.7,935.3 L378.1,927.4 L417.6,924.0 L457.1,918.0 L460.0,916.6 L465.0,918.1 L470.0,916.9 L475.0,918.2 L480.0,918.3 L485.0,914.9 L490.0,914.5 L495.0,919.3 L500.0,915.7 L505.0,915.6 L510.0,920.4 L515.0,917.6 L520.0,920.3 L525.0,918.9 L530.0,920.4 L535.0,917.9 L540.0,921.2 L545.0,922.9 L550.0,921.2 L555.0,922.9 L560.0,923.6 L565.0,920.5 L570.0,924.5 L573.5,928.7 L575.0,923.1 L577.6,919.5 L580.0,925.3 L580.5,923.5 L584.5,920.7 L588.5,921.6 L592.4,948.9 L592.5,920.3 L596.5,920.5 L599.2,893.8 L600.5,926.8 L604.5,932.0 L604.6,939.5 L608.5,929.6 L611.4,942.2 L612.5,929.7 L614.0,900.5 L616.5,921.8 L619.5,946.2 L620.5,923.2 L624.5,919.4 L626.2,897.8 L628.5,921.6 L632.5,918.6 L636.5,915.7 L638.4,950.3 L640.5,927.5 L644.5,928.7 L646.5,899.2 L648.5,926.3 L652.5,924.4 L656.5,919.1 L660.0,911.3 L660.5,927.0 L664.5,934.6 L668.5,937.9 L669.5,961.1 L672.5,943.6 L676.2,930.3 L676.5,948.3 L680.5,936.7 L684.5,941.5 L688.4,950.3 L688.5,944.4 L692.5,943.3 L695.1,920.8 L696.5,941.1 L697.8,966.5 L700.5,948.3 L703.2,941.1 L704.5,945.8 L708.5,962.3 L712.5,961.5 L715.4,971.9 L716.5,957.6 L720.5,956.9 L724.5,967.7 L724.9,947.8 L728.5,963.0 L732.5,966.8 L735.7,971.9 L736.5,966.3 L740.5,963.2 L744.5,963.4 L748.5,966.6 L749.2,957.3 L752.5,963.5 L756.5,958.9 L760.0,971.9 L760.5,960.7 L764.5,969.5 L768.5,959.7 L769.5,957.3 L772.5,958.9 L776.5,966.5 L780.5,963.6 L784.5,969.8 L785.7,961.5 L788.5,969.6 L792.5,968.9 L794.2,981.1 L796.5,979.1 L800.2,966.4 L800.5,969.3 L804.5,973.2 L808.5,970.1 L812.5,976.5 L816.5,973.0 L820.5,975.2 L824.5,982.0 L828.5,977.0 L832.5,981.6 L836.5,987.8 L840.5,978.0 L844.5,979.7 L848.5,983.4 L852.5,991.5 L856.5,990.2 L857.0,999.2 L860.5,987.9 L864.5,996.7 L865.5,982.1 L868.5,991.9 L872.5,992.9 L876.4,1041.5 L876.5,988.8 L880.5,998.3 L881.2,956.7 L883.6,976.0 L884.5,1002.0 L888.5,1006.9 L892.5,1003.1 L895.7,992.9 L896.5,1011.1 L900.5,999.8 L901.8,1045.2 L904.5,1005.0 L906.6,1003.8 L915.0,999.1 L927.1,1004.0 L951.3,1011.2 L975.5,1014.8 L990.0,1016.0 L1015.0,1017.0 L1040.0,1017.7 L1079.5,1017.7 L1120.0,1005.8 L1143.7,1001.0 L1167.4,991.6 L1187.1,978.9 L1206.8,967.9 L1222.6,956.0 L1238.4,945.8 L1250.2,934.7 L1257.1,919.1 L1276.8,889.5 L1290.6,865.8 L1300.0,853.6" stroke-width="4.15"/><path transform="translate(2.075,-2.075)" d="M275.5,951.0 L299.2,945.1 L338.7,935.3 L378.1,927.4 L417.6,924.0 L457.1,918.0 L460.0,916.6 L465.0,918.1 L470.0,916.9 L475.0,918.2 L480.0,918.3 L485.0,914.9 L490.0,914.5 L495.0,919.3 L500.0,915.7 L505.0,915.6 L510.0,920.4 L515.0,917.6 L520.0,920.3 L525.0,918.9 L530.0,920.4 L535.0,917.9 L540.0,921.2 L545.0,922.9 L550.0,921.2 L555.0,922.9 L560.0,923.6 L565.0,920.5 L570.0,924.5 L573.5,928.7 L575.0,923.1 L577.6,919.5 L580.0,925.3 L580.5,923.5 L584.5,920.7 L588.5,921.6 L592.4,948.9 L592.5,920.3 L596.5,920.5 L599.2,893.8 L600.5,926.8 L604.5,932.0 L604.6,939.5 L608.5,929.6 L611.4,942.2 L612.5,929.7 L614.0,900.5 L616.5,921.8 L619.5,946.2 L620.5,923.2 L624.5,919.4 L626.2,897.8 L628.5,921.6 L632.5,918.6 L636.5,915.7 L638.4,950.3 L640.5,927.5 L644.5,928.7 L646.5,899.2 L648.5,926.3 L652.5,924.4 L656.5,919.1 L660.0,911.3 L660.5,927.0 L664.5,934.6 L668.5,937.9 L669.5,961.1 L672.5,943.6 L676.2,930.3 L676.5,948.3 L680.5,936.7 L684.5,941.5 L688.4,950.3 L688.5,944.4 L692.5,943.3 L695.1,920.8 L696.5,941.1 L697.8,966.5 L700.5,948.3 L703.2,941.1 L704.5,945.8 L708.5,962.3 L712.5,961.5 L715.4,971.9 L716.5,957.6 L720.5,956.9 L724.5,967.7 L724.9,947.8 L728.5,963.0 L732.5,966.8 L735.7,971.9 L736.5,966.3 L740.5,963.2 L744.5,963.4 L748.5,966.6 L749.2,957.3 L752.5,963.5 L756.5,958.9 L760.0,971.9 L760.5,960.7 L764.5,969.5 L768.5,959.7 L769.5,957.3 L772.5,958.9 L776.5,966.5 L780.5,963.6 L784.5,969.8 L785.7,961.5 L788.5,969.6 L792.5,968.9 L794.2,981.1 L796.5,979.1 L800.2,966.4 L800.5,969.3 L804.5,973.2 L808.5,970.1 L812.5,976.5 L816.5,973.0 L820.5,975.2 L824.5,982.0 L828.5,977.0 L832.5,981.6 L836.5,987.8 L840.5,978.0 L844.5,979.7 L848.5,983.4 L852.5,991.5 L856.5,990.2 L857.0,999.2 L860.5,987.9 L864.5,996.7 L865.5,982.1 L868.5,991.9 L872.5,992.9 L876.4,1041.5 L876.5,988.8 L880.5,998.3 L881.2,956.7 L883.6,976.0 L884.5,1002.0 L888.5,1006.9 L892.5,1003.1 L895.7,992.9 L896.5,1011.1 L900.5,999.8 L901.8,1045.2 L904.5,1005.0 L906.6,1003.8 L915.0,999.1 L927.1,1004.0 L951.3,1011.2 L975.5,1014.8 L990.0,1016.0 L1015.0,1017.0 L1040.0,1017.7 L1079.5,1017.7 L1120.0,1005.8 L1143.7,1001.0 L1167.4,991.6 L1187.1,978.9 L1206.8,967.9 L1222.6,956.0 L1238.4,945.8 L1250.2,934.7 L1257.1,919.1 L1276.8,889.5 L1290.6,865.8 L1300.0,853.6" stroke-width="4.15"/><path transform="translate(-2.075,2.075)" d="M275.5,951.0 L299.2,945.1 L338.7,935.3 L378.1,927.4 L417.6,924.0 L457.1,918.0 L460.0,916.6 L465.0,918.1 L470.0,916.9 L475.0,918.2 L480.0,918.3 L485.0,914.9 L490.0,914.5 L495.0,919.3 L500.0,915.7 L505.0,915.6 L510.0,920.4 L515.0,917.6 L520.0,920.3 L525.0,918.9 L530.0,920.4 L535.0,917.9 L540.0,921.2 L545.0,922.9 L550.0,921.2 L555.0,922.9 L560.0,923.6 L565.0,920.5 L570.0,924.5 L573.5,928.7 L575.0,923.1 L577.6,919.5 L580.0,925.3 L580.5,923.5 L584.5,920.7 L588.5,921.6 L592.4,948.9 L592.5,920.3 L596.5,920.5 L599.2,893.8 L600.5,926.8 L604.5,932.0 L604.6,939.5 L608.5,929.6 L611.4,942.2 L612.5,929.7 L614.0,900.5 L616.5,921.8 L619.5,946.2 L620.5,923.2 L624.5,919.4 L626.2,897.8 L628.5,921.6 L632.5,918.6 L636.5,915.7 L638.4,950.3 L640.5,927.5 L644.5,928.7 L646.5,899.2 L648.5,926.3 L652.5,924.4 L656.5,919.1 L660.0,911.3 L660.5,927.0 L664.5,934.6 L668.5,937.9 L669.5,961.1 L672.5,943.6 L676.2,930.3 L676.5,948.3 L680.5,936.7 L684.5,941.5 L688.4,950.3 L688.5,944.4 L692.5,943.3 L695.1,920.8 L696.5,941.1 L697.8,966.5 L700.5,948.3 L703.2,941.1 L704.5,945.8 L708.5,962.3 L712.5,961.5 L715.4,971.9 L716.5,957.6 L720.5,956.9 L724.5,967.7 L724.9,947.8 L728.5,963.0 L732.5,966.8 L735.7,971.9 L736.5,966.3 L740.5,963.2 L744.5,963.4 L748.5,966.6 L749.2,957.3 L752.5,963.5 L756.5,958.9 L760.0,971.9 L760.5,960.7 L764.5,969.5 L768.5,959.7 L769.5,957.3 L772.5,958.9 L776.5,966.5 L780.5,963.6 L784.5,969.8 L785.7,961.5 L788.5,969.6 L792.5,968.9 L794.2,981.1 L796.5,979.1 L800.2,966.4 L800.5,969.3 L804.5,973.2 L808.5,970.1 L812.5,976.5 L816.5,973.0 L820.5,975.2 L824.5,982.0 L828.5,977.0 L832.5,981.6 L836.5,987.8 L840.5,978.0 L844.5,979.7 L848.5,983.4 L852.5,991.5 L856.5,990.2 L857.0,999.2 L860.5,987.9 L864.5,996.7 L865.5,982.1 L868.5,991.9 L872.5,992.9 L876.4,1041.5 L876.5,988.8 L880.5,998.3 L881.2,956.7 L883.6,976.0 L884.5,1002.0 L888.5,1006.9 L892.5,1003.1 L895.7,992.9 L896.5,1011.1 L900.5,999.8 L901.8,1045.2 L904.5,1005.0 L906.6,1003.8 L915.0,999.1 L927.1,1004.0 L951.3,1011.2 L975.5,1014.8 L990.0,1016.0 L1015.0,1017.0 L1040.0,1017.7 L1079.5,1017.7 L1120.0,1005.8 L1143.7,1001.0 L1167.4,991.6 L1187.1,978.9 L1206.8,967.9 L1222.6,956.0 L1238.4,945.8 L1250.2,934.7 L1257.1,919.1 L1276.8,889.5 L1290.6,865.8 L1300.0,853.6" stroke-width="4.15"/><path transform="translate(2.075,2.075)" d="M275.5,951.0 L299.2,945.1 L338.7,935.3 L378.1,927.4 L417.6,924.0 L457.1,918.0 L460.0,916.6 L465.0,918.1 L470.0,916.9 L475.0,918.2 L480.0,918.3 L485.0,914.9 L490.0,914.5 L495.0,919.3 L500.0,915.7 L505.0,915.6 L510.0,920.4 L515.0,917.6 L520.0,920.3 L525.0,918.9 L530.0,920.4 L535.0,917.9 L540.0,921.2 L545.0,922.9 L550.0,921.2 L555.0,922.9 L560.0,923.6 L565.0,920.5 L570.0,924.5 L573.5,928.7 L575.0,923.1 L577.6,919.5 L580.0,925.3 L580.5,923.5 L584.5,920.7 L588.5,921.6 L592.4,948.9 L592.5,920.3 L596.5,920.5 L599.2,893.8 L600.5,926.8 L604.5,932.0 L604.6,939.5 L608.5,929.6 L611.4,942.2 L612.5,929.7 L614.0,900.5 L616.5,921.8 L619.5,946.2 L620.5,923.2 L624.5,919.4 L626.2,897.8 L628.5,921.6 L632.5,918.6 L636.5,915.7 L638.4,950.3 L640.5,927.5 L644.5,928.7 L646.5,899.2 L648.5,926.3 L652.5,924.4 L656.5,919.1 L660.0,911.3 L660.5,927.0 L664.5,934.6 L668.5,937.9 L669.5,961.1 L672.5,943.6 L676.2,930.3 L676.5,948.3 L680.5,936.7 L684.5,941.5 L688.4,950.3 L688.5,944.4 L692.5,943.3 L695.1,920.8 L696.5,941.1 L697.8,966.5 L700.5,948.3 L703.2,941.1 L704.5,945.8 L708.5,962.3 L712.5,961.5 L715.4,971.9 L716.5,957.6 L720.5,956.9 L724.5,967.7 L724.9,947.8 L728.5,963.0 L732.5,966.8 L735.7,971.9 L736.5,966.3 L740.5,963.2 L744.5,963.4 L748.5,966.6 L749.2,957.3 L752.5,963.5 L756.5,958.9 L760.0,971.9 L760.5,960.7 L764.5,969.5 L768.5,959.7 L769.5,957.3 L772.5,958.9 L776.5,966.5 L780.5,963.6 L784.5,969.8 L785.7,961.5 L788.5,969.6 L792.5,968.9 L794.2,981.1 L796.5,979.1 L800.2,966.4 L800.5,969.3 L804.5,973.2 L808.5,970.1 L812.5,976.5 L816.5,973.0 L820.5,975.2 L824.5,982.0 L828.5,977.0 L832.5,981.6 L836.5,987.8 L840.5,978.0 L844.5,979.7 L848.5,983.4 L852.5,991.5 L856.5,990.2 L857.0,999.2 L860.5,987.9 L864.5,996.7 L865.5,982.1 L868.5,991.9 L872.5,992.9 L876.4,1041.5 L876.5,988.8 L880.5,998.3 L881.2,956.7 L883.6,976.0 L884.5,1002.0 L888.5,1006.9 L892.5,1003.1 L895.7,992.9 L896.5,1011.1 L900.5,999.8 L901.8,1045.2 L904.5,1005.0 L906.6,1003.8 L915.0,999.1 L927.1,1004.0 L951.3,1011.2 L975.5,1014.8 L990.0,1016.0 L1015.0,1017.0 L1040.0,1017.7 L1079.5,1017.7 L1120.0,1005.8 L1143.7,1001.0 L1167.4,991.6 L1187.1,978.9 L1206.8,967.9 L1222.6,956.0 L1238.4,945.8 L1250.2,934.7 L1257.1,919.1 L1276.8,889.5 L1290.6,865.8 L1300.0,853.6" stroke-width="4.15"/></g>
<g fill="#00ff00"><rect x="1295.8" y="849.5" width="8.3" height="8.3"/><rect x="1299.3" y="839.0" width="8.3" height="8.3"/><rect x="1302.8" y="828.6" width="8.3" height="8.3"/><rect x="1306.3" y="818.1" width="8.3" height="8.3"/><rect x="1309.7" y="807.7" width="8.3" height="8.3"/><rect x="1313.0" y="797.2" width="8.3" height="8.3"/><rect x="1316.3" y="786.7" width="8.3" height="8.3"/><rect x="1319.5" y="776.2" width="8.3" height="8.3"/><rect x="1322.1" y="765.5" width="8.3" height="8.3"/><rect x="1324.3" y="754.7" width="8.3" height="8.3"/><rect x="1326.4" y="743.9" width="8.3" height="8.3"/><rect x="1328.6" y="733.2" width="8.3" height="8.3"/><rect x="1330.8" y="722.4" width="8.3" height="8.3"/><rect x="1332.9" y="711.6" width="8.3" height="8.3"/><rect x="1335.0" y="700.8" width="8.3" height="8.3"/><rect x="1337.2" y="690.0" width="8.3" height="8.3"/></g>
<g stroke="#00ff00" fill="none" stroke-linejoin="round" stroke-linecap="round"><path d="M1342.0,690.8 L1342.3,689.3 L1349.8,639.6 L1357.2,589.8 L1364.5,545.0 L1374.7,468.8 L1384.6,411.5 L1394.6,369.2 L1404.5,319.5 L1409.5,294.6 L1415.0,280.0 L1419.5,274.7 L1424.8,268.0 L1431.9,266.0 L1440.0,268.0 L1446.8,274.7 L1459.0,299.0" stroke-width="7.64"/><path transform="translate(-2.075,-2.075)" d="M1342.0,690.8 L1342.3,689.3 L1349.8,639.6 L1357.2,589.8 L1364.5,545.0 L1374.7,468.8 L1384.6,411.5 L1394.6,369.2 L1404.5,319.5 L1409.5,294.6 L1415.0,280.0 L1419.5,274.7 L1424.8,268.0 L1431.9,266.0 L1440.0,268.0 L1446.8,274.7 L1459.0,299.0" stroke-width="4.15"/><path transform="translate(2.075,-2.075)" d="M1342.0,690.8 L1342.3,689.3 L1349.8,639.6 L1357.2,589.8 L1364.5,545.0 L1374.7,468.8 L1384.6,411.5 L1394.6,369.2 L1404.5,319.5 L1409.5,294.6 L1415.0,280.0 L1419.5,274.7 L1424.8,268.0 L1431.9,266.0 L1440.0,268.0 L1446.8,274.7 L1459.0,299.0" stroke-width="4.15"/><path transform="translate(-2.075,2.075)" d="M1342.0,690.8 L1342.3,689.3 L1349.8,639.6 L1357.2,589.8 L1364.5,545.0 L1374.7,468.8 L1384.6,411.5 L1394.6,369.2 L1404.5,319.5 L1409.5,294.6 L1415.0,280.0 L1419.5,274.7 L1424.8,268.0 L1431.9,266.0 L1440.0,268.0 L1446.8,274.7 L1459.0,299.0" stroke-width="4.15"/><path transform="translate(2.075,2.075)" d="M1342.0,690.8 L1342.3,689.3 L1349.8,639.6 L1357.2,589.8 L1364.5,545.0 L1374.7,468.8 L1384.6,411.5 L1394.6,369.2 L1404.5,319.5 L1409.5,294.6 L1415.0,280.0 L1419.5,274.7 L1424.8,268.0 L1431.9,266.0 L1440.0,268.0 L1446.8,274.7 L1459.0,299.0" stroke-width="4.15"/></g>
<g fill="#00ff00"><rect x="1454.8" y="294.9" width="8.3" height="8.3"/><rect x="1460.5" y="308.8" width="8.3" height="8.3"/><rect x="1466.0" y="322.7" width="8.3" height="8.3"/><rect x="1471.6" y="336.6" width="8.3" height="8.3"/><rect x="1477.2" y="350.5" width="8.3" height="8.3"/><rect x="1482.7" y="364.5" width="8.3" height="8.3"/><rect x="1487.8" y="378.6" width="8.3" height="8.3"/><rect x="1492.6" y="392.8" width="8.3" height="8.3"/><rect x="1497.3" y="407.0" width="8.3" height="8.3"/><rect x="1502.3" y="421.2" width="8.3" height="8.3"/><rect x="1507.6" y="435.2" width="8.3" height="8.3"/><rect x="1512.8" y="449.3" width="8.3" height="8.3"/><rect x="1518.6" y="463.1" width="8.3" height="8.3"/><rect x="1524.5" y="476.9" width="8.3" height="8.3"/><rect x="1530.5" y="490.6" width="8.3" height="8.3"/><rect x="1537.1" y="504.1" width="8.3" height="8.3"/><rect x="1543.8" y="517.5" width="8.3" height="8.3"/></g>
<g stroke="#00ff00" fill="none" stroke-linejoin="round" stroke-linecap="round"><path d="M1554.0,533.7 L1560.0,546.7 L1567.1,565.2 L1578.5,582.3 L1584.2,596.5 L1594.1,612.1 L1599.8,612.8" stroke-width="7.64"/><path transform="translate(-2.075,-2.075)" d="M1554.0,533.7 L1560.0,546.7 L1567.1,565.2 L1578.5,582.3 L1584.2,596.5 L1594.1,612.1 L1599.8,612.8" stroke-width="4.15"/><path transform="translate(2.075,-2.075)" d="M1554.0,533.7 L1560.0,546.7 L1567.1,565.2 L1578.5,582.3 L1584.2,596.5 L1594.1,612.1 L1599.8,612.8" stroke-width="4.15"/><path transform="translate(-2.075,2.075)" d="M1554.0,533.7 L1560.0,546.7 L1567.1,565.2 L1578.5,582.3 L1584.2,596.5 L1594.1,612.1 L1599.8,612.8" stroke-width="4.15"/><path transform="translate(2.075,2.075)" d="M1554.0,533.7 L1560.0,546.7 L1567.1,565.2 L1578.5,582.3 L1584.2,596.5 L1594.1,612.1 L1599.8,612.8" stroke-width="4.15"/></g>
<g stroke="#0000ff" fill="none" stroke-linejoin="round" stroke-linecap="round"><path d="M271.6,955.0 L280.0,952.0 L292.6,942.0 L310.0,936.0 L339.0,928.0 L375.4,919.0 L403.0,913.4 L429.7,909.7 L457.3,907.3 L496.5,906.0 L536.0,905.5 L560.0,906.5 L587.0,906.5 L599.2,920.0 L614.0,910.5 L622.2,924.1 L635.7,906.5 L653.2,924.1 L668.1,918.6 L695.1,924.1 L722.2,928.1 L749.2,932.2 L770.0,937.5 L794.2,943.5 L818.4,948.2 L848.6,954.4 L878.8,964.1 L903.0,971.3 L915.0,975.0 L939.2,978.6 L951.3,987.0 L963.4,984.6 L981.5,989.4 L995.2,990.4 L1040.0,992.0 L1059.7,992.1 L1079.5,1003.9 L1099.2,1002.0 L1118.9,996.0 L1135.8,993.9 L1151.6,994.7 L1161.0,988.4 L1167.4,984.5 L1183.1,984.5 L1195.0,977.4 L1214.7,975.8 L1222.6,965.5 L1238.4,960.0 L1246.3,952.1 L1266.0,944.2 L1270.0,935.5 L1276.8,928.9 L1296.5,905.3 L1305.0,890.0" stroke-width="7.64"/><path transform="translate(-2.075,-2.075)" d="M271.6,955.0 L280.0,952.0 L292.6,942.0 L310.0,936.0 L339.0,928.0 L375.4,919.0 L403.0,913.4 L429.7,909.7 L457.3,907.3 L496.5,906.0 L536.0,905.5 L560.0,906.5 L587.0,906.5 L599.2,920.0 L614.0,910.5 L622.2,924.1 L635.7,906.5 L653.2,924.1 L668.1,918.6 L695.1,924.1 L722.2,928.1 L749.2,932.2 L770.0,937.5 L794.2,943.5 L818.4,948.2 L848.6,954.4 L878.8,964.1 L903.0,971.3 L915.0,975.0 L939.2,978.6 L951.3,987.0 L963.4,984.6 L981.5,989.4 L995.2,990.4 L1040.0,992.0 L1059.7,992.1 L1079.5,1003.9 L1099.2,1002.0 L1118.9,996.0 L1135.8,993.9 L1151.6,994.7 L1161.0,988.4 L1167.4,984.5 L1183.1,984.5 L1195.0,977.4 L1214.7,975.8 L1222.6,965.5 L1238.4,960.0 L1246.3,952.1 L1266.0,944.2 L1270.0,935.5 L1276.8,928.9 L1296.5,905.3 L1305.0,890.0" stroke-width="4.15"/><path transform="translate(2.075,-2.075)" d="M271.6,955.0 L280.0,952.0 L292.6,942.0 L310.0,936.0 L339.0,928.0 L375.4,919.0 L403.0,913.4 L429.7,909.7 L457.3,907.3 L496.5,906.0 L536.0,905.5 L560.0,906.5 L587.0,906.5 L599.2,920.0 L614.0,910.5 L622.2,924.1 L635.7,906.5 L653.2,924.1 L668.1,918.6 L695.1,924.1 L722.2,928.1 L749.2,932.2 L770.0,937.5 L794.2,943.5 L818.4,948.2 L848.6,954.4 L878.8,964.1 L903.0,971.3 L915.0,975.0 L939.2,978.6 L951.3,987.0 L963.4,984.6 L981.5,989.4 L995.2,990.4 L1040.0,992.0 L1059.7,992.1 L1079.5,1003.9 L1099.2,1002.0 L1118.9,996.0 L1135.8,993.9 L1151.6,994.7 L1161.0,988.4 L1167.4,984.5 L1183.1,984.5 L1195.0,977.4 L1214.7,975.8 L1222.6,965.5 L1238.4,960.0 L1246.3,952.1 L1266.0,944.2 L1270.0,935.5 L1276.8,928.9 L1296.5,905.3 L1305.0,890.0" stroke-width="4.15"/><path transform="translate(-2.075,2.075)" d="M271.6,955.0 L280.0,952.0 L292.6,942.0 L310.0,936.0 L339.0,928.0 L375.4,919.0 L403.0,913.4 L429.7,909.7 L457.3,907.3 L496.5,906.0 L536.0,905.5 L560.0,906.5 L587.0,906.5 L599.2,920.0 L614.0,910.5 L622.2,924.1 L635.7,906.5 L653.2,924.1 L668.1,918.6 L695.1,924.1 L722.2,928.1 L749.2,932.2 L770.0,937.5 L794.2,943.5 L818.4,948.2 L848.6,954.4 L878.8,964.1 L903.0,971.3 L915.0,975.0 L939.2,978.6 L951.3,987.0 L963.4,984.6 L981.5,989.4 L995.2,990.4 L1040.0,992.0 L1059.7,992.1 L1079.5,1003.9 L1099.2,1002.0 L1118.9,996.0 L1135.8,993.9 L1151.6,994.7 L1161.0,988.4 L1167.4,984.5 L1183.1,984.5 L1195.0,977.4 L1214.7,975.8 L1222.6,965.5 L1238.4,960.0 L1246.3,952.1 L1266.0,944.2 L1270.0,935.5 L1276.8,928.9 L1296.5,905.3 L1305.0,890.0" stroke-width="4.15"/><path transform="translate(2.075,2.075)" d="M271.6,955.0 L280.0,952.0 L292.6,942.0 L310.0,936.0 L339.0,928.0 L375.4,919.0 L403.0,913.4 L429.7,909.7 L457.3,907.3 L496.5,906.0 L536.0,905.5 L560.0,906.5 L587.0,906.5 L599.2,920.0 L614.0,910.5 L622.2,924.1 L635.7,906.5 L653.2,924.1 L668.1,918.6 L695.1,924.1 L722.2,928.1 L749.2,932.2 L770.0,937.5 L794.2,943.5 L818.4,948.2 L848.6,954.4 L878.8,964.1 L903.0,971.3 L915.0,975.0 L939.2,978.6 L951.3,987.0 L963.4,984.6 L981.5,989.4 L995.2,990.4 L1040.0,992.0 L1059.7,992.1 L1079.5,1003.9 L1099.2,1002.0 L1118.9,996.0 L1135.8,993.9 L1151.6,994.7 L1161.0,988.4 L1167.4,984.5 L1183.1,984.5 L1195.0,977.4 L1214.7,975.8 L1222.6,965.5 L1238.4,960.0 L1246.3,952.1 L1266.0,944.2 L1270.0,935.5 L1276.8,928.9 L1296.5,905.3 L1305.0,890.0" stroke-width="4.15"/></g>
<g fill="#0000ff"><rect x="1300.8" y="885.9" width="8.3" height="8.3"/><rect x="1307.6" y="878.5" width="8.3" height="8.3"/><rect x="1312.9" y="870.0" width="8.3" height="8.3"/><rect x="1318.1" y="861.5" width="8.3" height="8.3"/><rect x="1323.2" y="852.9" width="8.3" height="8.3"/><rect x="1328.2" y="844.2" width="8.3" height="8.3"/><rect x="1333.2" y="835.6" width="8.3" height="8.3"/><rect x="1338.2" y="826.9" width="8.3" height="8.3"/><rect x="1342.1" y="817.7" width="8.3" height="8.3"/><rect x="1345.9" y="808.5" width="8.3" height="8.3"/><rect x="1349.8" y="799.2" width="8.3" height="8.3"/><rect x="1353.5" y="790.0" width="8.3" height="8.3"/><rect x="1357.2" y="780.7" width="8.3" height="8.3"/><rect x="1360.8" y="771.3" width="8.3" height="8.3"/><rect x="1363.4" y="761.7" width="8.3" height="8.3"/><rect x="1366.0" y="752.0" width="8.3" height="8.3"/><rect x="1368.6" y="742.4" width="8.3" height="8.3"/><rect x="1371.0" y="732.7" width="8.3" height="8.3"/><rect x="1373.0" y="722.9" width="8.3" height="8.3"/><rect x="1374.9" y="713.0" width="8.3" height="8.3"/><rect x="1376.8" y="703.2" width="8.3" height="8.3"/><rect x="1379.1" y="693.5" width="8.3" height="8.3"/><rect x="1381.6" y="683.8" width="8.3" height="8.3"/><rect x="1384.2" y="674.2" width="8.3" height="8.3"/><rect x="1386.8" y="664.5" width="8.3" height="8.3"/><rect x="1389.1" y="654.8" width="8.3" height="8.3"/><rect x="1391.0" y="645.0" width="8.3" height="8.3"/><rect x="1393.0" y="635.2" width="8.3" height="8.3"/><rect x="1395.0" y="625.4" width="8.3" height="8.3"/><rect x="1397.4" y="615.7" width="8.3" height="8.3"/><rect x="1400.0" y="606.0" width="8.3" height="8.3"/><rect x="1402.5" y="596.3" width="8.3" height="8.3"/><rect x="1405.1" y="586.7" width="8.3" height="8.3"/><rect x="1407.5" y="577.0" width="8.3" height="8.3"/><rect x="1410.0" y="567.3" width="8.3" height="8.3"/><rect x="1412.4" y="557.6" width="8.3" height="8.3"/><rect x="1414.8" y="547.9" width="8.3" height="8.3"/></g>
<g stroke="#0000ff" fill="none" stroke-linejoin="round" stroke-linecap="round"><path d="M1420.0,545.5 L1424.4,506.1 L1434.4,448.9 L1444.4,399.1 L1454.3,349.3 L1461.8,304.5 L1466.8,282.1 L1472.0,275.0 L1478.0,272.2 L1485.0,275.0 L1491.6,282.1 L1500.0,298.8" stroke-width="7.64"/><path transform="translate(-2.075,-2.075)" d="M1420.0,545.5 L1424.4,506.1 L1434.4,448.9 L1444.4,399.1 L1454.3,349.3 L1461.8,304.5 L1466.8,282.1 L1472.0,275.0 L1478.0,272.2 L1485.0,275.0 L1491.6,282.1 L1500.0,298.8" stroke-width="4.15"/><path transform="translate(2.075,-2.075)" d="M1420.0,545.5 L1424.4,506.1 L1434.4,448.9 L1444.4,399.1 L1454.3,349.3 L1461.8,304.5 L1466.8,282.1 L1472.0,275.0 L1478.0,272.2 L1485.0,275.0 L1491.6,282.1 L1500.0,298.8" stroke-width="4.15"/><path transform="translate(-2.075,2.075)" d="M1420.0,545.5 L1424.4,506.1 L1434.4,448.9 L1444.4,399.1 L1454.3,349.3 L1461.8,304.5 L1466.8,282.1 L1472.0,275.0 L1478.0,272.2 L1485.0,275.0 L1491.6,282.1 L1500.0,298.8" stroke-width="4.15"/><path transform="translate(2.075,2.075)" d="M1420.0,545.5 L1424.4,506.1 L1434.4,448.9 L1444.4,399.1 L1454.3,349.3 L1461.8,304.5 L1466.8,282.1 L1472.0,275.0 L1478.0,272.2 L1485.0,275.0 L1491.6,282.1 L1500.0,298.8" stroke-width="4.15"/></g>
<g fill="#0000ff"><rect x="1495.8" y="294.7" width="8.3" height="8.3"/><rect x="1501.8" y="308.4" width="8.3" height="8.3"/><rect x="1507.6" y="322.3" width="8.3" height="8.3"/><rect x="1513.1" y="336.2" width="8.3" height="8.3"/><rect x="1518.5" y="350.2" width="8.3" height="8.3"/><rect x="1523.7" y="364.3" width="8.3" height="8.3"/><rect x="1528.4" y="378.5" width="8.3" height="8.3"/><rect x="1533.4" y="392.7" width="8.3" height="8.3"/><rect x="1539.2" y="406.5" width="8.3" height="8.3"/><rect x="1544.9" y="420.3" width="8.3" height="8.3"/><rect x="1550.6" y="434.2" width="8.3" height="8.3"/><rect x="1556.2" y="448.1" width="8.3" height="8.3"/><rect x="1562.1" y="461.9" width="8.3" height="8.3"/><rect x="1568.5" y="475.5" width="8.3" height="8.3"/><rect x="1574.5" y="489.2" width="8.3" height="8.3"/><rect x="1581.1" y="502.7" width="8.3" height="8.3"/><rect x="1589.9" y="514.7" width="8.3" height="8.3"/><rect x="1600.1" y="525.7" width="8.3" height="8.3"/></g>
<g stroke="#0000ff" fill="none" stroke-linejoin="round" stroke-linecap="round"><path d="M1608.0,533.6 L1619.8,546.7 L1628.3,553.8 L1636.8,565.2 L1648.2,568.0 L1653.9,578.0 L1662.4,589.4 L1668.1,599.3 L1672.4,579.4 L1678.1,596.5 L1682.3,625.0" stroke-width="7.64"/><path transform="translate(-2.075,-2.075)" d="M1608.0,533.6 L1619.8,546.7 L1628.3,553.8 L1636.8,565.2 L1648.2,568.0 L1653.9,578.0 L1662.4,589.4 L1668.1,599.3 L1672.4,579.4 L1678.1,596.5 L1682.3,625.0" stroke-width="4.15"/><path transform="translate(2.075,-2.075)" d="M1608.0,533.6 L1619.8,546.7 L1628.3,553.8 L1636.8,565.2 L1648.2,568.0 L1653.9,578.0 L1662.4,589.4 L1668.1,599.3 L1672.4,579.4 L1678.1,596.5 L1682.3,625.0" stroke-width="4.15"/><path transform="translate(-2.075,2.075)" d="M1608.0,533.6 L1619.8,546.7 L1628.3,553.8 L1636.8,565.2 L1648.2,568.0 L1653.9,578.0 L1662.4,589.4 L1668.1,599.3 L1672.4,579.4 L1678.1,596.5 L1682.3,625.0" stroke-width="4.15"/><path transform="translate(2.075,2.075)" d="M1608.0,533.6 L1619.8,546.7 L1628.3,553.8 L1636.8,565.2 L1648.2,568.0 L1653.9,578.0 L1662.4,589.4 L1668.1,599.3 L1672.4,579.4 L1678.1,596.5 L1682.3,625.0" stroke-width="4.15"/></g>
<g stroke="#000" stroke-width="4.4" stroke-linecap="round" fill="none">
<line x1="240.0" y1="45.0" x2="240.0" y2="1198.5" stroke-linecap="square"/>
<line x1="240.0" y1="45.0" x2="1793.0" y2="45.0" stroke-linecap="butt"/>
<line x1="240.0" y1="1198.5" x2="1793.0" y2="1198.5" stroke-linecap="butt"/>
<line x1="229.0" y1="1198.5" x2="240.0" y2="1198.5"/>
<line x1="229.0" y1="1161.2" x2="240.0" y2="1161.2"/>
<line x1="229.0" y1="1130.8" x2="240.0" y2="1130.8"/>
<line x1="229.0" y1="1105.1" x2="240.0" y2="1105.1"/>
<line x1="229.0" y1="1082.8" x2="240.0" y2="1082.8"/>
<line x1="229.0" y1="1063.1" x2="240.0" y2="1063.1"/>
<line x1="218.0" y1="1045.5" x2="240.0" y2="1045.5"/>
<line x1="229.0" y1="929.8" x2="240.0" y2="929.8"/>
<line x1="229.0" y1="862.0" x2="240.0" y2="862.0"/>
<line x1="229.0" y1="814.0" x2="240.0" y2="814.0"/>
<line x1="229.0" y1="776.7" x2="240.0" y2="776.7"/>
<line x1="229.0" y1="746.3" x2="240.0" y2="746.3"/>
<line x1="229.0" y1="720.6" x2="240.0" y2="720.6"/>
<line x1="229.0" y1="698.3" x2="240.0" y2="698.3"/>
<line x1="229.0" y1="678.6" x2="240.0" y2="678.6"/>
<line x1="218.0" y1="661.0" x2="240.0" y2="661.0"/>
<line x1="229.0" y1="545.3" x2="240.0" y2="545.3"/>
<line x1="229.0" y1="477.5" x2="240.0" y2="477.5"/>
<line x1="229.0" y1="429.5" x2="240.0" y2="429.5"/>
<line x1="229.0" y1="392.2" x2="240.0" y2="392.2"/>
<line x1="229.0" y1="361.8" x2="240.0" y2="361.8"/>
<line x1="229.0" y1="336.1" x2="240.0" y2="336.1"/>
<line x1="229.0" y1="313.8" x2="240.0" y2="313.8"/>
<line x1="229.0" y1="294.1" x2="240.0" y2="294.1"/>
<line x1="218.0" y1="276.5" x2="240.0" y2="276.5"/>
<line x1="229.0" y1="160.8" x2="240.0" y2="160.8"/>
<line x1="229.0" y1="93.0" x2="240.0" y2="93.0"/>
<line x1="229.0" y1="45.0" x2="240.0" y2="45.0"/>
<line x1="240.0" y1="1198.5" x2="240.0" y2="1220.0"/>
<line x1="412.5" y1="1198.5" x2="412.5" y2="1209.0"/>
<line x1="585.0" y1="1198.5" x2="585.0" y2="1220.0"/>
<line x1="757.6" y1="1198.5" x2="757.6" y2="1209.0"/>
<line x1="930.1" y1="1198.5" x2="930.1" y2="1220.0"/>
<line x1="1102.6" y1="1198.5" x2="1102.6" y2="1209.0"/>
<line x1="1275.1" y1="1198.5" x2="1275.1" y2="1220.0"/>
<line x1="1447.7" y1="1198.5" x2="1447.7" y2="1209.0"/>
<line x1="1620.2" y1="1198.5" x2="1620.2" y2="1220.0"/>
<line x1="1792.7" y1="1198.5" x2="1792.7" y2="1209.0"/>
</g>
<g stroke="#0000ff" stroke-width="4.4" stroke-linecap="round" fill="none">
<line x1="1793.0" y1="45.0" x2="1793.0" y2="1198.5" stroke-linecap="square"/>
<line x1="1793.0" y1="1198.3" x2="1804.7" y2="1198.3"/>
<line x1="1793.0" y1="1176.5" x2="1804.7" y2="1176.5"/>
<line x1="1793.0" y1="1156.9" x2="1815.3" y2="1156.9"/>
<line x1="1793.0" y1="1028.3" x2="1804.7" y2="1028.3"/>
<line x1="1793.0" y1="953.0" x2="1804.7" y2="953.0"/>
<line x1="1793.0" y1="899.6" x2="1804.7" y2="899.6"/>
<line x1="1793.0" y1="858.2" x2="1804.7" y2="858.2"/>
<line x1="1793.0" y1="824.4" x2="1804.7" y2="824.4"/>
<line x1="1793.0" y1="795.8" x2="1804.7" y2="795.8"/>
<line x1="1793.0" y1="771.0" x2="1804.7" y2="771.0"/>
<line x1="1793.0" y1="749.2" x2="1804.7" y2="749.2"/>
<line x1="1793.0" y1="729.6" x2="1815.3" y2="729.6"/>
<line x1="1793.0" y1="601.0" x2="1804.7" y2="601.0"/>
<line x1="1793.0" y1="525.7" x2="1804.7" y2="525.7"/>
<line x1="1793.0" y1="472.3" x2="1804.7" y2="472.3"/>
<line x1="1793.0" y1="430.9" x2="1804.7" y2="430.9"/>
<line x1="1793.0" y1="397.1" x2="1804.7" y2="397.1"/>
<line x1="1793.0" y1="368.5" x2="1804.7" y2="368.5"/>
<line x1="1793.0" y1="343.7" x2="1804.7" y2="343.7"/>
<line x1="1793.0" y1="321.9" x2="1804.7" y2="321.9"/>
<line x1="1793.0" y1="302.3" x2="1815.3" y2="302.3"/>
<line x1="1793.0" y1="173.7" x2="1804.7" y2="173.7"/>
<line x1="1793.0" y1="98.4" x2="1804.7" y2="98.4"/>
<line x1="1793.0" y1="45.0" x2="1804.7" y2="45.0"/>
</g>
<text font-family="'Liberation Sans', Arial, sans-serif" font-size="44.5" fill="#000" text-anchor="end" transform="translate(204.00,287.75) scale(1,1.035)">1E9</text>
<text font-family="'Liberation Sans', Arial, sans-serif" font-size="44.5" fill="#000" text-anchor="end" transform="translate(204.00,672.25) scale(1,1.035)">1E8</text>
<text font-family="'Liberation Sans', Arial, sans-serif" font-size="44.5" fill="#000" text-anchor="end" transform="translate(204.00,1056.75) scale(1,1.035)">1E7</text>
<text font-family="'Liberation Sans', Arial, sans-serif" font-size="44.5" fill="#000" text-anchor="middle" transform="translate(240.00,1271.30) scale(1,1.035)">50</text>
<text font-family="'Liberation Sans', Arial, sans-serif" font-size="44.5" fill="#000" text-anchor="middle" transform="translate(585.05,1271.30) scale(1,1.035)">100</text>
<text font-family="'Liberation Sans', Arial, sans-serif" font-size="44.5" fill="#000" text-anchor="middle" transform="translate(930.10,1271.30) scale(1,1.035)">150</text>
<text font-family="'Liberation Sans', Arial, sans-serif" font-size="44.5" fill="#000" text-anchor="middle" transform="translate(1275.15,1271.30) scale(1,1.035)">200</text>
<text font-family="'Liberation Sans', Arial, sans-serif" font-size="44.5" fill="#000" text-anchor="middle" transform="translate(1620.20,1271.30) scale(1,1.035)">250</text>
<text font-family="'Liberation Sans', Arial, sans-serif" font-size="44.5" fill="#0000ff" text-anchor="start" transform="translate(1829.60,313.90) scale(1,1.035)">1</text>
<text font-family="'Liberation Sans', Arial, sans-serif" font-size="44.5" fill="#0000ff" text-anchor="start" transform="translate(1829.60,741.20) scale(1,1.035)">0.1</text>
<text font-family="'Liberation Sans', Arial, sans-serif" font-size="44.5" fill="#0000ff" text-anchor="start" transform="translate(1829.60,1168.50) scale(1,1.035)">0.01</text>
<text font-family="'Liberation Sans', Arial, sans-serif" font-size="54.5" fill="#000" text-anchor="start" transform="translate(72.00,923.00) rotate(-90) scale(1,1.048)">Storage modulus (Pa)</text>
<text font-family="'Liberation Sans', Arial, sans-serif" font-size="55" fill="#000" transform="translate(804.7,1371.7) scale(1,1.04)">Temperature (<tspan font-size="29" dy="-30">o</tspan><tspan dy="30">C)</tspan></text>
<text font-family="'Liberation Sans', Arial, sans-serif" font-size="54" fill="#0000ff" transform="translate(1960,595) rotate(90) scale(1,1.04)">Tan</text>
<text font-family="'Liberation Serif', serif" font-size="50" fill="#0000ff" transform="translate(1960,701.2) rotate(90)">δ</text>
<rect x="260" y="361.6" width="606.4" height="272.9" fill="#fff" stroke="#000" stroke-width="1.4"/>
<line x1="283.5" y1="398.5" x2="405.5" y2="398.5" stroke="#000" stroke-width="8.5" stroke-linecap="round"/>
<text font-family="'Liberation Sans', Arial, sans-serif" font-size="54.85" fill="#000" text-anchor="start" transform="translate(419.70,415.90) scale(1,1.055)">3, 3'-ISDPA/ODA</text>
<line x1="283.5" y1="465.0" x2="405.5" y2="465.0" stroke="#ff0000" stroke-width="8.5" stroke-linecap="round"/>
<text font-family="'Liberation Sans', Arial, sans-serif" font-size="54.85" fill="#000" text-anchor="start" transform="translate(419.70,482.70) scale(1,1.055)">3, 3'-IMDPA/ODA</text>
<line x1="283.5" y1="531.6" x2="405.5" y2="531.6" stroke="#00ff00" stroke-width="8.5" stroke-linecap="round"/>
<text font-family="'Liberation Sans', Arial, sans-serif" font-size="54.85" fill="#000" text-anchor="start" transform="translate(419.70,549.20) scale(1,1.055)">4, 4'-ISDPA/ODA</text>
<line x1="283.5" y1="597.8" x2="405.5" y2="597.8" stroke="#0000ff" stroke-width="8.5" stroke-linecap="round"/>
<text font-family="'Liberation Sans', Arial, sans-serif" font-size="54.85" fill="#000" text-anchor="start" transform="translate(419.70,616.50) scale(1,1.055)">4, 4'-IMDPA/ODA</text>
</svg>
</body></html>
